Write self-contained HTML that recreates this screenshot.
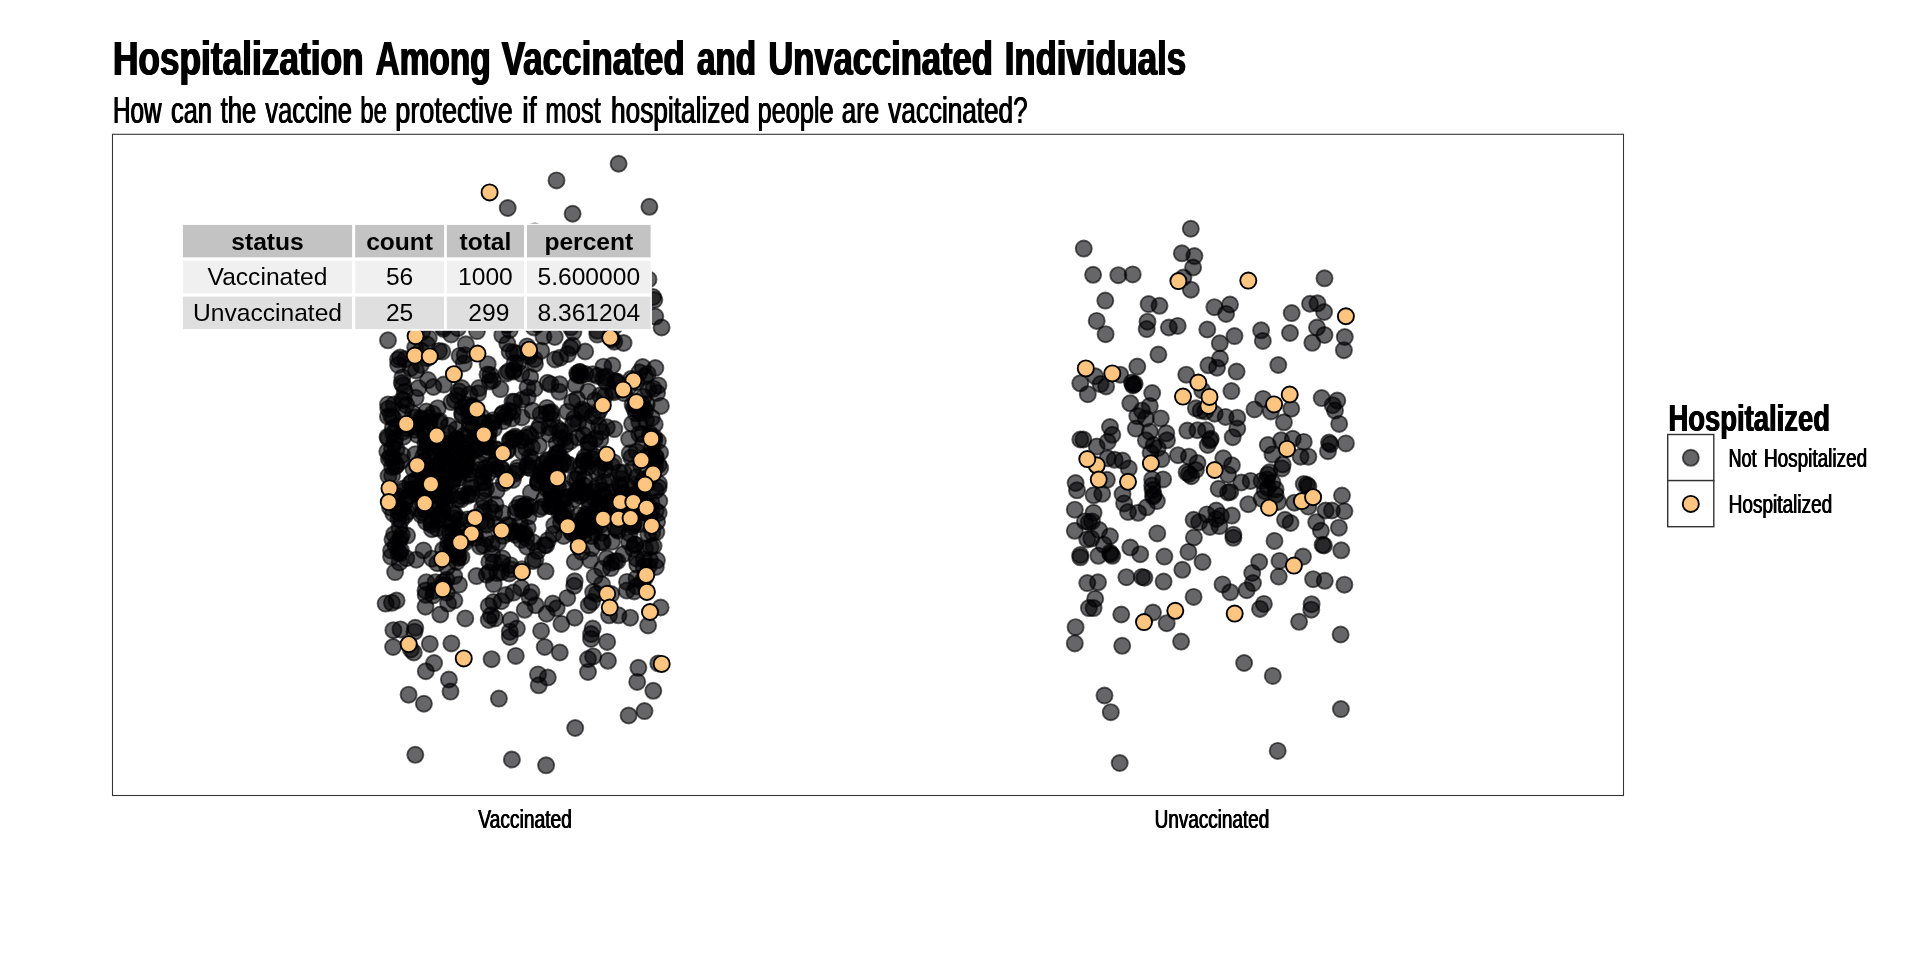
<!DOCTYPE html>
<html><head><meta charset="utf-8"><title>Hospitalization Among Vaccinated and Unvaccinated Individuals</title>
<style>
html,body{margin:0;padding:0;background:#fff;}
body{width:1920px;height:960px;overflow:hidden;font-family:"Liberation Sans",sans-serif;}
svg{display:block;position:absolute;left:0;top:0;}
svg text{font-family:"Liberation Sans",sans-serif;fill:#000;}
.g circle{fill:#000004;fill-opacity:.6;stroke:#000;stroke-opacity:.6;stroke-width:1.88;}
.o circle{fill:#fdc57f;stroke:#000;stroke-width:1.88;}
</style></head><body>
<svg width="1920" height="960" viewBox="0 0 1920 960" style="will-change:transform">
<rect x="0" y="0" width="1920" height="960" fill="#fff"/>

<g font-size="48" font-weight="bold">
<text x="112.24" y="75" textLength="250.64" lengthAdjust="spacingAndGlyphs">Hospitalization</text>
<text x="112.94" y="75" textLength="250.64" lengthAdjust="spacingAndGlyphs">Hospitalization</text>
<text x="113.64" y="75" textLength="250.64" lengthAdjust="spacingAndGlyphs">Hospitalization</text>
<text x="374.88" y="75" textLength="115.08" lengthAdjust="spacingAndGlyphs">Among</text>
<text x="375.58" y="75" textLength="115.08" lengthAdjust="spacingAndGlyphs">Among</text>
<text x="376.28" y="75" textLength="115.08" lengthAdjust="spacingAndGlyphs">Among</text>
<text x="500.99" y="75" textLength="183.12" lengthAdjust="spacingAndGlyphs">Vaccinated</text>
<text x="501.69" y="75" textLength="183.12" lengthAdjust="spacingAndGlyphs">Vaccinated</text>
<text x="502.39" y="75" textLength="183.12" lengthAdjust="spacingAndGlyphs">Vaccinated</text>
<text x="696.30" y="75" textLength="59.02" lengthAdjust="spacingAndGlyphs">and</text>
<text x="697.00" y="75" textLength="59.02" lengthAdjust="spacingAndGlyphs">and</text>
<text x="697.70" y="75" textLength="59.02" lengthAdjust="spacingAndGlyphs">and</text>
<text x="767.69" y="75" textLength="224.39" lengthAdjust="spacingAndGlyphs">Unvaccinated</text>
<text x="768.39" y="75" textLength="224.39" lengthAdjust="spacingAndGlyphs">Unvaccinated</text>
<text x="769.09" y="75" textLength="224.39" lengthAdjust="spacingAndGlyphs">Unvaccinated</text>
<text x="1004.08" y="75" textLength="181.27" lengthAdjust="spacingAndGlyphs">Individuals</text>
<text x="1004.78" y="75" textLength="181.27" lengthAdjust="spacingAndGlyphs">Individuals</text>
<text x="1005.48" y="75" textLength="181.27" lengthAdjust="spacingAndGlyphs">Individuals</text>
</g>
<g font-size="36.3" font-weight="normal">
<text x="112.61" y="122.5" textLength="48.50" lengthAdjust="spacingAndGlyphs">How</text>
<text x="113.06" y="122.5" textLength="48.50" lengthAdjust="spacingAndGlyphs">How</text>
<text x="113.51" y="122.5" textLength="48.50" lengthAdjust="spacingAndGlyphs">How</text>
<text x="170.49" y="122.5" textLength="41.02" lengthAdjust="spacingAndGlyphs">can</text>
<text x="170.94" y="122.5" textLength="41.02" lengthAdjust="spacingAndGlyphs">can</text>
<text x="171.39" y="122.5" textLength="41.02" lengthAdjust="spacingAndGlyphs">can</text>
<text x="220.18" y="122.5" textLength="35.54" lengthAdjust="spacingAndGlyphs">the</text>
<text x="220.63" y="122.5" textLength="35.54" lengthAdjust="spacingAndGlyphs">the</text>
<text x="221.08" y="122.5" textLength="35.54" lengthAdjust="spacingAndGlyphs">the</text>
<text x="264.88" y="122.5" textLength="86.59" lengthAdjust="spacingAndGlyphs">vaccine</text>
<text x="265.33" y="122.5" textLength="86.59" lengthAdjust="spacingAndGlyphs">vaccine</text>
<text x="265.78" y="122.5" textLength="86.59" lengthAdjust="spacingAndGlyphs">vaccine</text>
<text x="359.92" y="122.5" textLength="26.53" lengthAdjust="spacingAndGlyphs">be</text>
<text x="360.37" y="122.5" textLength="26.53" lengthAdjust="spacingAndGlyphs">be</text>
<text x="360.82" y="122.5" textLength="26.53" lengthAdjust="spacingAndGlyphs">be</text>
<text x="394.82" y="122.5" textLength="117.44" lengthAdjust="spacingAndGlyphs">protective</text>
<text x="395.27" y="122.5" textLength="117.44" lengthAdjust="spacingAndGlyphs">protective</text>
<text x="395.72" y="122.5" textLength="117.44" lengthAdjust="spacingAndGlyphs">protective</text>
<text x="521.75" y="122.5" textLength="14.55" lengthAdjust="spacingAndGlyphs">if</text>
<text x="522.20" y="122.5" textLength="14.55" lengthAdjust="spacingAndGlyphs">if</text>
<text x="522.65" y="122.5" textLength="14.55" lengthAdjust="spacingAndGlyphs">if</text>
<text x="544.91" y="122.5" textLength="55.43" lengthAdjust="spacingAndGlyphs">most</text>
<text x="545.36" y="122.5" textLength="55.43" lengthAdjust="spacingAndGlyphs">most</text>
<text x="545.81" y="122.5" textLength="55.43" lengthAdjust="spacingAndGlyphs">most</text>
<text x="610.55" y="122.5" textLength="138.63" lengthAdjust="spacingAndGlyphs">hospitalized</text>
<text x="611.00" y="122.5" textLength="138.63" lengthAdjust="spacingAndGlyphs">hospitalized</text>
<text x="611.45" y="122.5" textLength="138.63" lengthAdjust="spacingAndGlyphs">hospitalized</text>
<text x="757.13" y="122.5" textLength="76.06" lengthAdjust="spacingAndGlyphs">people</text>
<text x="757.58" y="122.5" textLength="76.06" lengthAdjust="spacingAndGlyphs">people</text>
<text x="758.03" y="122.5" textLength="76.06" lengthAdjust="spacingAndGlyphs">people</text>
<text x="841.28" y="122.5" textLength="37.47" lengthAdjust="spacingAndGlyphs">are</text>
<text x="841.73" y="122.5" textLength="37.47" lengthAdjust="spacingAndGlyphs">are</text>
<text x="842.18" y="122.5" textLength="37.47" lengthAdjust="spacingAndGlyphs">are</text>
<text x="887.83" y="122.5" textLength="139.33" lengthAdjust="spacingAndGlyphs">vaccinated?</text>
<text x="888.28" y="122.5" textLength="139.33" lengthAdjust="spacingAndGlyphs">vaccinated?</text>
<text x="888.73" y="122.5" textLength="139.33" lengthAdjust="spacingAndGlyphs">vaccinated?</text>
</g>
<rect x="112.5" y="134.3" width="1511" height="661.2" fill="#fff" stroke="#333" stroke-width="1.07"/>
<g class="g">
<circle cx="565.6" cy="444.5" r="8.05"/>
<circle cx="407.0" cy="512.0" r="8.05"/>
<circle cx="403.1" cy="385.2" r="8.05"/>
<circle cx="526.2" cy="448.2" r="8.05"/>
<circle cx="406.3" cy="558.2" r="8.05"/>
<circle cx="412.1" cy="488.9" r="8.05"/>
<circle cx="421.1" cy="320.4" r="8.05"/>
<circle cx="448.4" cy="542.3" r="8.05"/>
<circle cx="545.3" cy="318.2" r="8.05"/>
<circle cx="495.9" cy="313.5" r="8.05"/>
<circle cx="622.4" cy="493.9" r="8.05"/>
<circle cx="466.6" cy="463.0" r="8.05"/>
<circle cx="471.7" cy="494.2" r="8.05"/>
<circle cx="610.8" cy="501.7" r="8.05"/>
<circle cx="562.3" cy="516.0" r="8.05"/>
<circle cx="489.2" cy="572.3" r="8.05"/>
<circle cx="403.5" cy="436.7" r="8.05"/>
<circle cx="443.6" cy="457.6" r="8.05"/>
<circle cx="473.3" cy="427.6" r="8.05"/>
<circle cx="547.6" cy="382.8" r="8.05"/>
<circle cx="604.9" cy="395.9" r="8.05"/>
<circle cx="578.7" cy="488.5" r="8.05"/>
<circle cx="627.0" cy="581.9" r="8.05"/>
<circle cx="655.8" cy="457.7" r="8.05"/>
<circle cx="428.8" cy="338.1" r="8.05"/>
<circle cx="521.2" cy="539.9" r="8.05"/>
<circle cx="596.7" cy="593.8" r="8.05"/>
<circle cx="544.2" cy="498.9" r="8.05"/>
<circle cx="577.7" cy="521.2" r="8.05"/>
<circle cx="550.1" cy="413.2" r="8.05"/>
<circle cx="617.4" cy="381.8" r="8.05"/>
<circle cx="646.0" cy="420.3" r="8.05"/>
<circle cx="579.4" cy="488.1" r="8.05"/>
<circle cx="612.4" cy="299.8" r="8.05"/>
<circle cx="465.2" cy="245.4" r="8.05"/>
<circle cx="403.4" cy="488.6" r="8.05"/>
<circle cx="597.7" cy="505.2" r="8.05"/>
<circle cx="494.3" cy="512.6" r="8.05"/>
<circle cx="626.0" cy="515.2" r="8.05"/>
<circle cx="537.7" cy="551.0" r="8.05"/>
<circle cx="629.2" cy="513.6" r="8.05"/>
<circle cx="463.5" cy="541.1" r="8.05"/>
<circle cx="501.0" cy="307.6" r="8.05"/>
<circle cx="451.1" cy="495.6" r="8.05"/>
<circle cx="520.1" cy="524.2" r="8.05"/>
<circle cx="388.3" cy="408.8" r="8.05"/>
<circle cx="648.3" cy="389.5" r="8.05"/>
<circle cx="572.5" cy="345.6" r="8.05"/>
<circle cx="402.0" cy="455.1" r="8.05"/>
<circle cx="626.8" cy="590.6" r="8.05"/>
<circle cx="605.8" cy="376.6" r="8.05"/>
<circle cx="415.6" cy="397.7" r="8.05"/>
<circle cx="561.0" cy="522.6" r="8.05"/>
<circle cx="444.4" cy="497.4" r="8.05"/>
<circle cx="431.7" cy="479.5" r="8.05"/>
<circle cx="387.3" cy="451.5" r="8.05"/>
<circle cx="428.6" cy="491.4" r="8.05"/>
<circle cx="394.2" cy="534.2" r="8.05"/>
<circle cx="626.8" cy="516.8" r="8.05"/>
<circle cx="456.3" cy="429.4" r="8.05"/>
<circle cx="482.4" cy="434.2" r="8.05"/>
<circle cx="659.3" cy="501.0" r="8.05"/>
<circle cx="410.7" cy="368.1" r="8.05"/>
<circle cx="415.2" cy="488.5" r="8.05"/>
<circle cx="614.3" cy="429.1" r="8.05"/>
<circle cx="431.4" cy="524.7" r="8.05"/>
<circle cx="427.4" cy="498.3" r="8.05"/>
<circle cx="531.9" cy="447.1" r="8.05"/>
<circle cx="655.3" cy="461.5" r="8.05"/>
<circle cx="458.7" cy="555.8" r="8.05"/>
<circle cx="487.7" cy="364.2" r="8.05"/>
<circle cx="533.1" cy="542.3" r="8.05"/>
<circle cx="657.1" cy="521.8" r="8.05"/>
<circle cx="611.4" cy="562.8" r="8.05"/>
<circle cx="484.6" cy="482.5" r="8.05"/>
<circle cx="395.1" cy="572.1" r="8.05"/>
<circle cx="458.2" cy="537.1" r="8.05"/>
<circle cx="577.0" cy="479.4" r="8.05"/>
<circle cx="643.9" cy="559.3" r="8.05"/>
<circle cx="657.9" cy="441.1" r="8.05"/>
<circle cx="447.6" cy="547.5" r="8.05"/>
<circle cx="449.4" cy="443.6" r="8.05"/>
<circle cx="558.2" cy="486.6" r="8.05"/>
<circle cx="633.9" cy="523.2" r="8.05"/>
<circle cx="566.1" cy="521.1" r="8.05"/>
<circle cx="606.3" cy="382.2" r="8.05"/>
<circle cx="636.5" cy="578.4" r="8.05"/>
<circle cx="601.6" cy="532.7" r="8.05"/>
<circle cx="436.1" cy="467.1" r="8.05"/>
<circle cx="603.4" cy="366.7" r="8.05"/>
<circle cx="653.4" cy="388.7" r="8.05"/>
<circle cx="585.8" cy="293.5" r="8.05"/>
<circle cx="433.8" cy="590.8" r="8.05"/>
<circle cx="635.1" cy="502.2" r="8.05"/>
<circle cx="608.2" cy="503.1" r="8.05"/>
<circle cx="655.8" cy="567.0" r="8.05"/>
<circle cx="567.3" cy="597.9" r="8.05"/>
<circle cx="391.1" cy="556.6" r="8.05"/>
<circle cx="531.5" cy="592.3" r="8.05"/>
<circle cx="643.0" cy="443.8" r="8.05"/>
<circle cx="613.6" cy="303.9" r="8.05"/>
<circle cx="453.1" cy="466.2" r="8.05"/>
<circle cx="547.9" cy="540.3" r="8.05"/>
<circle cx="423.1" cy="461.6" r="8.05"/>
<circle cx="636.5" cy="558.5" r="8.05"/>
<circle cx="547.0" cy="407.9" r="8.05"/>
<circle cx="635.0" cy="544.4" r="8.05"/>
<circle cx="524.7" cy="294.3" r="8.05"/>
<circle cx="532.9" cy="561.1" r="8.05"/>
<circle cx="507.8" cy="450.1" r="8.05"/>
<circle cx="437.4" cy="464.5" r="8.05"/>
<circle cx="516.9" cy="470.9" r="8.05"/>
<circle cx="476.5" cy="449.6" r="8.05"/>
<circle cx="529.2" cy="356.1" r="8.05"/>
<circle cx="416.3" cy="322.1" r="8.05"/>
<circle cx="540.7" cy="414.4" r="8.05"/>
<circle cx="598.8" cy="467.7" r="8.05"/>
<circle cx="526.3" cy="537.9" r="8.05"/>
<circle cx="508.7" cy="410.8" r="8.05"/>
<circle cx="527.5" cy="387.6" r="8.05"/>
<circle cx="577.0" cy="399.2" r="8.05"/>
<circle cx="518.2" cy="363.2" r="8.05"/>
<circle cx="645.2" cy="499.0" r="8.05"/>
<circle cx="645.4" cy="410.5" r="8.05"/>
<circle cx="458.3" cy="296.1" r="8.05"/>
<circle cx="617.4" cy="270.8" r="8.05"/>
<circle cx="407.1" cy="535.6" r="8.05"/>
<circle cx="453.1" cy="532.8" r="8.05"/>
<circle cx="602.0" cy="584.4" r="8.05"/>
<circle cx="633.0" cy="525.1" r="8.05"/>
<circle cx="426.4" cy="582.2" r="8.05"/>
<circle cx="658.4" cy="385.4" r="8.05"/>
<circle cx="615.3" cy="527.7" r="8.05"/>
<circle cx="528.5" cy="516.4" r="8.05"/>
<circle cx="480.1" cy="546.4" r="8.05"/>
<circle cx="585.1" cy="492.8" r="8.05"/>
<circle cx="392.5" cy="539.6" r="8.05"/>
<circle cx="478.0" cy="435.4" r="8.05"/>
<circle cx="404.8" cy="391.9" r="8.05"/>
<circle cx="657.1" cy="392.9" r="8.05"/>
<circle cx="422.7" cy="504.6" r="8.05"/>
<circle cx="611.6" cy="295.9" r="8.05"/>
<circle cx="458.1" cy="557.9" r="8.05"/>
<circle cx="575.8" cy="492.6" r="8.05"/>
<circle cx="503.7" cy="483.1" r="8.05"/>
<circle cx="606.8" cy="558.3" r="8.05"/>
<circle cx="623.6" cy="554.0" r="8.05"/>
<circle cx="641.1" cy="489.9" r="8.05"/>
<circle cx="531.6" cy="461.8" r="8.05"/>
<circle cx="452.5" cy="513.0" r="8.05"/>
<circle cx="401.0" cy="507.4" r="8.05"/>
<circle cx="442.5" cy="500.1" r="8.05"/>
<circle cx="595.3" cy="438.5" r="8.05"/>
<circle cx="466.6" cy="536.4" r="8.05"/>
<circle cx="392.2" cy="467.0" r="8.05"/>
<circle cx="588.1" cy="467.0" r="8.05"/>
<circle cx="538.2" cy="482.5" r="8.05"/>
<circle cx="643.3" cy="504.1" r="8.05"/>
<circle cx="416.3" cy="559.7" r="8.05"/>
<circle cx="522.8" cy="506.3" r="8.05"/>
<circle cx="615.9" cy="382.0" r="8.05"/>
<circle cx="575.6" cy="385.1" r="8.05"/>
<circle cx="656.4" cy="532.1" r="8.05"/>
<circle cx="580.8" cy="375.5" r="8.05"/>
<circle cx="402.1" cy="399.8" r="8.05"/>
<circle cx="422.8" cy="512.8" r="8.05"/>
<circle cx="431.9" cy="529.2" r="8.05"/>
<circle cx="467.5" cy="453.9" r="8.05"/>
<circle cx="513.1" cy="531.2" r="8.05"/>
<circle cx="459.3" cy="519.5" r="8.05"/>
<circle cx="650.7" cy="546.9" r="8.05"/>
<circle cx="454.2" cy="576.1" r="8.05"/>
<circle cx="651.8" cy="448.0" r="8.05"/>
<circle cx="387.5" cy="436.8" r="8.05"/>
<circle cx="491.8" cy="543.9" r="8.05"/>
<circle cx="496.7" cy="469.1" r="8.05"/>
<circle cx="470.6" cy="485.1" r="8.05"/>
<circle cx="451.0" cy="471.9" r="8.05"/>
<circle cx="592.8" cy="374.2" r="8.05"/>
<circle cx="567.4" cy="411.7" r="8.05"/>
<circle cx="493.9" cy="428.6" r="8.05"/>
<circle cx="476.6" cy="290.2" r="8.05"/>
<circle cx="585.6" cy="516.8" r="8.05"/>
<circle cx="563.4" cy="462.2" r="8.05"/>
<circle cx="559.1" cy="512.4" r="8.05"/>
<circle cx="425.4" cy="450.7" r="8.05"/>
<circle cx="530.7" cy="306.9" r="8.05"/>
<circle cx="607.7" cy="300.0" r="8.05"/>
<circle cx="613.6" cy="462.4" r="8.05"/>
<circle cx="574.3" cy="306.4" r="8.05"/>
<circle cx="577.2" cy="373.3" r="8.05"/>
<circle cx="423.7" cy="469.8" r="8.05"/>
<circle cx="486.0" cy="489.0" r="8.05"/>
<circle cx="521.3" cy="373.7" r="8.05"/>
<circle cx="525.0" cy="510.2" r="8.05"/>
<circle cx="533.8" cy="327.4" r="8.05"/>
<circle cx="589.1" cy="449.4" r="8.05"/>
<circle cx="456.3" cy="439.6" r="8.05"/>
<circle cx="587.0" cy="528.7" r="8.05"/>
<circle cx="443.4" cy="498.2" r="8.05"/>
<circle cx="522.5" cy="451.7" r="8.05"/>
<circle cx="597.3" cy="334.6" r="8.05"/>
<circle cx="556.3" cy="484.6" r="8.05"/>
<circle cx="427.6" cy="444.9" r="8.05"/>
<circle cx="456.8" cy="439.4" r="8.05"/>
<circle cx="542.8" cy="463.8" r="8.05"/>
<circle cx="571.3" cy="531.6" r="8.05"/>
<circle cx="576.9" cy="492.9" r="8.05"/>
<circle cx="528.7" cy="434.2" r="8.05"/>
<circle cx="514.5" cy="401.8" r="8.05"/>
<circle cx="632.1" cy="423.8" r="8.05"/>
<circle cx="441.8" cy="476.3" r="8.05"/>
<circle cx="513.0" cy="438.7" r="8.05"/>
<circle cx="510.3" cy="565.2" r="8.05"/>
<circle cx="460.8" cy="257.9" r="8.05"/>
<circle cx="444.9" cy="520.0" r="8.05"/>
<circle cx="648.3" cy="534.4" r="8.05"/>
<circle cx="423.5" cy="550.4" r="8.05"/>
<circle cx="630.2" cy="511.8" r="8.05"/>
<circle cx="579.9" cy="372.1" r="8.05"/>
<circle cx="510.7" cy="569.3" r="8.05"/>
<circle cx="469.9" cy="469.3" r="8.05"/>
<circle cx="473.8" cy="518.2" r="8.05"/>
<circle cx="617.4" cy="529.5" r="8.05"/>
<circle cx="420.1" cy="468.6" r="8.05"/>
<circle cx="634.2" cy="591.4" r="8.05"/>
<circle cx="466.6" cy="405.0" r="8.05"/>
<circle cx="660.9" cy="405.9" r="8.05"/>
<circle cx="462.6" cy="407.4" r="8.05"/>
<circle cx="400.4" cy="538.4" r="8.05"/>
<circle cx="643.6" cy="566.6" r="8.05"/>
<circle cx="527.2" cy="467.3" r="8.05"/>
<circle cx="629.5" cy="313.0" r="8.05"/>
<circle cx="537.7" cy="324.3" r="8.05"/>
<circle cx="587.9" cy="461.7" r="8.05"/>
<circle cx="510.7" cy="439.5" r="8.05"/>
<circle cx="465.6" cy="469.1" r="8.05"/>
<circle cx="516.6" cy="508.1" r="8.05"/>
<circle cx="481.4" cy="446.6" r="8.05"/>
<circle cx="654.7" cy="424.4" r="8.05"/>
<circle cx="539.9" cy="425.5" r="8.05"/>
<circle cx="444.2" cy="492.9" r="8.05"/>
<circle cx="635.4" cy="512.4" r="8.05"/>
<circle cx="635.5" cy="405.0" r="8.05"/>
<circle cx="660.2" cy="468.1" r="8.05"/>
<circle cx="439.9" cy="421.1" r="8.05"/>
<circle cx="412.1" cy="481.9" r="8.05"/>
<circle cx="452.7" cy="446.0" r="8.05"/>
<circle cx="458.0" cy="499.2" r="8.05"/>
<circle cx="592.6" cy="300.5" r="8.05"/>
<circle cx="500.3" cy="389.1" r="8.05"/>
<circle cx="490.5" cy="375.1" r="8.05"/>
<circle cx="479.9" cy="522.2" r="8.05"/>
<circle cx="652.3" cy="532.6" r="8.05"/>
<circle cx="421.7" cy="494.0" r="8.05"/>
<circle cx="623.6" cy="343.0" r="8.05"/>
<circle cx="446.4" cy="464.4" r="8.05"/>
<circle cx="496.7" cy="458.2" r="8.05"/>
<circle cx="509.4" cy="532.9" r="8.05"/>
<circle cx="393.2" cy="418.2" r="8.05"/>
<circle cx="494.5" cy="465.6" r="8.05"/>
<circle cx="641.2" cy="466.1" r="8.05"/>
<circle cx="653.6" cy="546.1" r="8.05"/>
<circle cx="455.3" cy="313.1" r="8.05"/>
<circle cx="530.3" cy="506.5" r="8.05"/>
<circle cx="574.1" cy="499.2" r="8.05"/>
<circle cx="596.8" cy="416.4" r="8.05"/>
<circle cx="398.0" cy="359.5" r="8.05"/>
<circle cx="601.5" cy="496.5" r="8.05"/>
<circle cx="564.1" cy="488.6" r="8.05"/>
<circle cx="561.5" cy="513.5" r="8.05"/>
<circle cx="578.6" cy="515.3" r="8.05"/>
<circle cx="530.9" cy="492.6" r="8.05"/>
<circle cx="546.9" cy="488.8" r="8.05"/>
<circle cx="551.9" cy="419.2" r="8.05"/>
<circle cx="390.1" cy="507.5" r="8.05"/>
<circle cx="649.9" cy="435.9" r="8.05"/>
<circle cx="451.5" cy="541.5" r="8.05"/>
<circle cx="454.9" cy="400.3" r="8.05"/>
<circle cx="393.2" cy="433.3" r="8.05"/>
<circle cx="502.3" cy="335.2" r="8.05"/>
<circle cx="457.7" cy="468.4" r="8.05"/>
<circle cx="396.5" cy="293.0" r="8.05"/>
<circle cx="574.2" cy="418.7" r="8.05"/>
<circle cx="525.5" cy="509.0" r="8.05"/>
<circle cx="443.4" cy="329.0" r="8.05"/>
<circle cx="611.9" cy="541.7" r="8.05"/>
<circle cx="450.4" cy="452.7" r="8.05"/>
<circle cx="468.0" cy="493.6" r="8.05"/>
<circle cx="501.5" cy="468.5" r="8.05"/>
<circle cx="427.3" cy="358.1" r="8.05"/>
<circle cx="495.0" cy="282.2" r="8.05"/>
<circle cx="426.1" cy="521.9" r="8.05"/>
<circle cx="633.3" cy="548.8" r="8.05"/>
<circle cx="629.3" cy="499.5" r="8.05"/>
<circle cx="642.5" cy="434.0" r="8.05"/>
<circle cx="591.7" cy="548.3" r="8.05"/>
<circle cx="489.6" cy="423.0" r="8.05"/>
<circle cx="478.1" cy="393.3" r="8.05"/>
<circle cx="463.9" cy="470.2" r="8.05"/>
<circle cx="483.5" cy="472.8" r="8.05"/>
<circle cx="651.4" cy="510.5" r="8.05"/>
<circle cx="444.0" cy="454.5" r="8.05"/>
<circle cx="612.4" cy="365.5" r="8.05"/>
<circle cx="505.7" cy="595.1" r="8.05"/>
<circle cx="489.3" cy="561.9" r="8.05"/>
<circle cx="639.1" cy="497.4" r="8.05"/>
<circle cx="633.0" cy="496.3" r="8.05"/>
<circle cx="395.5" cy="545.4" r="8.05"/>
<circle cx="597.3" cy="330.8" r="8.05"/>
<circle cx="398.3" cy="552.5" r="8.05"/>
<circle cx="639.3" cy="497.9" r="8.05"/>
<circle cx="457.6" cy="473.9" r="8.05"/>
<circle cx="480.1" cy="463.8" r="8.05"/>
<circle cx="461.8" cy="278.8" r="8.05"/>
<circle cx="459.0" cy="584.6" r="8.05"/>
<circle cx="583.6" cy="435.0" r="8.05"/>
<circle cx="388.2" cy="438.3" r="8.05"/>
<circle cx="594.2" cy="531.6" r="8.05"/>
<circle cx="645.7" cy="575.0" r="8.05"/>
<circle cx="393.8" cy="404.5" r="8.05"/>
<circle cx="649.4" cy="477.1" r="8.05"/>
<circle cx="648.6" cy="566.4" r="8.05"/>
<circle cx="505.0" cy="416.4" r="8.05"/>
<circle cx="522.4" cy="510.8" r="8.05"/>
<circle cx="607.1" cy="517.3" r="8.05"/>
<circle cx="589.5" cy="442.6" r="8.05"/>
<circle cx="553.6" cy="533.9" r="8.05"/>
<circle cx="477.0" cy="331.1" r="8.05"/>
<circle cx="601.5" cy="431.7" r="8.05"/>
<circle cx="455.0" cy="514.8" r="8.05"/>
<circle cx="476.5" cy="576.1" r="8.05"/>
<circle cx="655.8" cy="490.6" r="8.05"/>
<circle cx="410.2" cy="292.3" r="8.05"/>
<circle cx="581.7" cy="552.0" r="8.05"/>
<circle cx="509.7" cy="525.9" r="8.05"/>
<circle cx="557.2" cy="476.1" r="8.05"/>
<circle cx="569.3" cy="464.8" r="8.05"/>
<circle cx="420.4" cy="296.5" r="8.05"/>
<circle cx="542.5" cy="506.7" r="8.05"/>
<circle cx="455.0" cy="462.6" r="8.05"/>
<circle cx="545.6" cy="571.3" r="8.05"/>
<circle cx="526.2" cy="248.5" r="8.05"/>
<circle cx="658.7" cy="513.0" r="8.05"/>
<circle cx="415.2" cy="347.4" r="8.05"/>
<circle cx="617.5" cy="306.3" r="8.05"/>
<circle cx="637.7" cy="492.7" r="8.05"/>
<circle cx="439.1" cy="485.4" r="8.05"/>
<circle cx="642.1" cy="581.7" r="8.05"/>
<circle cx="489.2" cy="447.3" r="8.05"/>
<circle cx="458.4" cy="531.1" r="8.05"/>
<circle cx="600.3" cy="395.4" r="8.05"/>
<circle cx="550.5" cy="506.2" r="8.05"/>
<circle cx="557.1" cy="453.1" r="8.05"/>
<circle cx="425.9" cy="484.0" r="8.05"/>
<circle cx="443.1" cy="549.7" r="8.05"/>
<circle cx="565.8" cy="463.3" r="8.05"/>
<circle cx="442.9" cy="586.0" r="8.05"/>
<circle cx="437.9" cy="472.6" r="8.05"/>
<circle cx="495.5" cy="504.5" r="8.05"/>
<circle cx="537.9" cy="482.8" r="8.05"/>
<circle cx="432.1" cy="442.3" r="8.05"/>
<circle cx="577.7" cy="437.5" r="8.05"/>
<circle cx="471.5" cy="406.4" r="8.05"/>
<circle cx="648.4" cy="505.6" r="8.05"/>
<circle cx="485.1" cy="423.5" r="8.05"/>
<circle cx="501.3" cy="572.2" r="8.05"/>
<circle cx="441.2" cy="243.4" r="8.05"/>
<circle cx="388.8" cy="458.8" r="8.05"/>
<circle cx="634.2" cy="408.2" r="8.05"/>
<circle cx="498.5" cy="322.3" r="8.05"/>
<circle cx="629.1" cy="542.2" r="8.05"/>
<circle cx="391.3" cy="416.2" r="8.05"/>
<circle cx="538.3" cy="479.7" r="8.05"/>
<circle cx="557.7" cy="317.8" r="8.05"/>
<circle cx="464.8" cy="542.6" r="8.05"/>
<circle cx="417.0" cy="268.2" r="8.05"/>
<circle cx="521.6" cy="440.4" r="8.05"/>
<circle cx="421.9" cy="250.8" r="8.05"/>
<circle cx="401.8" cy="383.1" r="8.05"/>
<circle cx="635.0" cy="545.0" r="8.05"/>
<circle cx="557.2" cy="428.0" r="8.05"/>
<circle cx="602.5" cy="490.5" r="8.05"/>
<circle cx="614.4" cy="326.4" r="8.05"/>
<circle cx="437.3" cy="563.2" r="8.05"/>
<circle cx="492.3" cy="554.1" r="8.05"/>
<circle cx="585.8" cy="514.4" r="8.05"/>
<circle cx="633.1" cy="513.3" r="8.05"/>
<circle cx="594.7" cy="576.4" r="8.05"/>
<circle cx="397.6" cy="495.9" r="8.05"/>
<circle cx="551.5" cy="490.2" r="8.05"/>
<circle cx="537.9" cy="429.5" r="8.05"/>
<circle cx="502.3" cy="414.5" r="8.05"/>
<circle cx="546.8" cy="413.1" r="8.05"/>
<circle cx="509.6" cy="351.7" r="8.05"/>
<circle cx="507.3" cy="525.1" r="8.05"/>
<circle cx="521.3" cy="587.9" r="8.05"/>
<circle cx="451.7" cy="484.9" r="8.05"/>
<circle cx="512.8" cy="480.0" r="8.05"/>
<circle cx="436.4" cy="314.4" r="8.05"/>
<circle cx="422.4" cy="425.7" r="8.05"/>
<circle cx="505.2" cy="474.0" r="8.05"/>
<circle cx="527.0" cy="546.7" r="8.05"/>
<circle cx="398.4" cy="518.8" r="8.05"/>
<circle cx="588.2" cy="443.1" r="8.05"/>
<circle cx="600.3" cy="439.4" r="8.05"/>
<circle cx="525.3" cy="437.7" r="8.05"/>
<circle cx="490.7" cy="464.9" r="8.05"/>
<circle cx="622.0" cy="512.4" r="8.05"/>
<circle cx="660.1" cy="452.5" r="8.05"/>
<circle cx="440.3" cy="448.8" r="8.05"/>
<circle cx="432.4" cy="478.3" r="8.05"/>
<circle cx="405.2" cy="515.5" r="8.05"/>
<circle cx="483.3" cy="269.6" r="8.05"/>
<circle cx="632.9" cy="469.0" r="8.05"/>
<circle cx="462.5" cy="415.3" r="8.05"/>
<circle cx="639.3" cy="422.1" r="8.05"/>
<circle cx="474.6" cy="533.4" r="8.05"/>
<circle cx="431.4" cy="521.3" r="8.05"/>
<circle cx="643.8" cy="479.8" r="8.05"/>
<circle cx="433.4" cy="387.0" r="8.05"/>
<circle cx="602.3" cy="298.0" r="8.05"/>
<circle cx="485.8" cy="538.6" r="8.05"/>
<circle cx="546.1" cy="545.2" r="8.05"/>
<circle cx="629.0" cy="386.8" r="8.05"/>
<circle cx="658.6" cy="487.4" r="8.05"/>
<circle cx="508.4" cy="371.4" r="8.05"/>
<circle cx="435.6" cy="582.2" r="8.05"/>
<circle cx="611.8" cy="465.9" r="8.05"/>
<circle cx="456.7" cy="439.3" r="8.05"/>
<circle cx="547.7" cy="304.7" r="8.05"/>
<circle cx="569.1" cy="272.7" r="8.05"/>
<circle cx="396.5" cy="465.0" r="8.05"/>
<circle cx="428.1" cy="471.9" r="8.05"/>
<circle cx="527.7" cy="397.2" r="8.05"/>
<circle cx="632.6" cy="404.6" r="8.05"/>
<circle cx="566.2" cy="509.7" r="8.05"/>
<circle cx="393.3" cy="513.6" r="8.05"/>
<circle cx="485.1" cy="468.4" r="8.05"/>
<circle cx="548.6" cy="485.8" r="8.05"/>
<circle cx="443.1" cy="582.0" r="8.05"/>
<circle cx="643.8" cy="396.8" r="8.05"/>
<circle cx="413.5" cy="469.0" r="8.05"/>
<circle cx="562.1" cy="517.0" r="8.05"/>
<circle cx="497.3" cy="573.1" r="8.05"/>
<circle cx="459.6" cy="355.9" r="8.05"/>
<circle cx="483.2" cy="476.1" r="8.05"/>
<circle cx="644.0" cy="408.9" r="8.05"/>
<circle cx="588.2" cy="391.5" r="8.05"/>
<circle cx="403.2" cy="413.2" r="8.05"/>
<circle cx="600.6" cy="503.1" r="8.05"/>
<circle cx="645.0" cy="578.0" r="8.05"/>
<circle cx="426.2" cy="475.6" r="8.05"/>
<circle cx="526.1" cy="504.6" r="8.05"/>
<circle cx="472.0" cy="488.1" r="8.05"/>
<circle cx="469.5" cy="416.7" r="8.05"/>
<circle cx="583.2" cy="522.4" r="8.05"/>
<circle cx="514.7" cy="473.8" r="8.05"/>
<circle cx="449.1" cy="462.0" r="8.05"/>
<circle cx="416.0" cy="370.5" r="8.05"/>
<circle cx="479.1" cy="469.7" r="8.05"/>
<circle cx="592.6" cy="491.6" r="8.05"/>
<circle cx="582.2" cy="409.5" r="8.05"/>
<circle cx="460.1" cy="307.0" r="8.05"/>
<circle cx="603.2" cy="378.1" r="8.05"/>
<circle cx="530.6" cy="435.8" r="8.05"/>
<circle cx="651.6" cy="454.9" r="8.05"/>
<circle cx="446.7" cy="592.6" r="8.05"/>
<circle cx="458.5" cy="478.2" r="8.05"/>
<circle cx="451.9" cy="456.5" r="8.05"/>
<circle cx="591.6" cy="458.9" r="8.05"/>
<circle cx="476.8" cy="255.4" r="8.05"/>
<circle cx="452.7" cy="524.3" r="8.05"/>
<circle cx="635.9" cy="413.3" r="8.05"/>
<circle cx="655.4" cy="368.0" r="8.05"/>
<circle cx="578.3" cy="301.7" r="8.05"/>
<circle cx="622.2" cy="499.1" r="8.05"/>
<circle cx="543.5" cy="336.5" r="8.05"/>
<circle cx="471.5" cy="521.3" r="8.05"/>
<circle cx="408.5" cy="496.1" r="8.05"/>
<circle cx="636.8" cy="586.4" r="8.05"/>
<circle cx="416.4" cy="479.6" r="8.05"/>
<circle cx="641.7" cy="483.2" r="8.05"/>
<circle cx="395.1" cy="439.7" r="8.05"/>
<circle cx="398.6" cy="507.3" r="8.05"/>
<circle cx="578.2" cy="423.0" r="8.05"/>
<circle cx="486.8" cy="574.7" r="8.05"/>
<circle cx="611.2" cy="514.2" r="8.05"/>
<circle cx="625.0" cy="299.0" r="8.05"/>
<circle cx="619.5" cy="484.8" r="8.05"/>
<circle cx="609.7" cy="482.1" r="8.05"/>
<circle cx="560.2" cy="357.7" r="8.05"/>
<circle cx="465.9" cy="344.3" r="8.05"/>
<circle cx="594.7" cy="499.3" r="8.05"/>
<circle cx="443.4" cy="490.5" r="8.05"/>
<circle cx="392.9" cy="428.1" r="8.05"/>
<circle cx="457.5" cy="550.8" r="8.05"/>
<circle cx="488.0" cy="438.6" r="8.05"/>
<circle cx="556.6" cy="443.6" r="8.05"/>
<circle cx="599.0" cy="484.6" r="8.05"/>
<circle cx="534.6" cy="388.5" r="8.05"/>
<circle cx="446.5" cy="579.8" r="8.05"/>
<circle cx="611.8" cy="491.9" r="8.05"/>
<circle cx="433.9" cy="437.7" r="8.05"/>
<circle cx="596.0" cy="526.1" r="8.05"/>
<circle cx="655.1" cy="467.5" r="8.05"/>
<circle cx="521.9" cy="569.2" r="8.05"/>
<circle cx="605.5" cy="469.8" r="8.05"/>
<circle cx="482.3" cy="508.1" r="8.05"/>
<circle cx="615.1" cy="561.2" r="8.05"/>
<circle cx="464.9" cy="453.0" r="8.05"/>
<circle cx="417.3" cy="434.7" r="8.05"/>
<circle cx="602.8" cy="542.4" r="8.05"/>
<circle cx="630.6" cy="495.8" r="8.05"/>
<circle cx="394.1" cy="443.3" r="8.05"/>
<circle cx="634.1" cy="485.7" r="8.05"/>
<circle cx="524.5" cy="533.2" r="8.05"/>
<circle cx="451.2" cy="334.4" r="8.05"/>
<circle cx="513.5" cy="592.6" r="8.05"/>
<circle cx="593.5" cy="322.4" r="8.05"/>
<circle cx="564.3" cy="438.0" r="8.05"/>
<circle cx="429.8" cy="421.6" r="8.05"/>
<circle cx="618.2" cy="530.8" r="8.05"/>
<circle cx="507.4" cy="343.7" r="8.05"/>
<circle cx="421.7" cy="484.0" r="8.05"/>
<circle cx="513.8" cy="352.5" r="8.05"/>
<circle cx="439.7" cy="515.7" r="8.05"/>
<circle cx="469.8" cy="424.1" r="8.05"/>
<circle cx="429.6" cy="417.8" r="8.05"/>
<circle cx="429.9" cy="304.8" r="8.05"/>
<circle cx="530.3" cy="468.2" r="8.05"/>
<circle cx="654.4" cy="440.1" r="8.05"/>
<circle cx="586.9" cy="517.3" r="8.05"/>
<circle cx="506.4" cy="451.1" r="8.05"/>
<circle cx="416.5" cy="508.6" r="8.05"/>
<circle cx="443.8" cy="585.3" r="8.05"/>
<circle cx="496.5" cy="449.3" r="8.05"/>
<circle cx="603.9" cy="481.9" r="8.05"/>
<circle cx="560.5" cy="430.9" r="8.05"/>
<circle cx="514.1" cy="369.8" r="8.05"/>
<circle cx="498.1" cy="542.3" r="8.05"/>
<circle cx="590.2" cy="560.1" r="8.05"/>
<circle cx="544.5" cy="545.2" r="8.05"/>
<circle cx="592.5" cy="416.0" r="8.05"/>
<circle cx="585.1" cy="411.2" r="8.05"/>
<circle cx="628.3" cy="497.1" r="8.05"/>
<circle cx="620.8" cy="487.6" r="8.05"/>
<circle cx="573.4" cy="332.0" r="8.05"/>
<circle cx="473.0" cy="406.0" r="8.05"/>
<circle cx="559.3" cy="391.8" r="8.05"/>
<circle cx="601.6" cy="542.0" r="8.05"/>
<circle cx="582.6" cy="520.0" r="8.05"/>
<circle cx="503.3" cy="421.2" r="8.05"/>
<circle cx="511.9" cy="418.4" r="8.05"/>
<circle cx="572.2" cy="401.8" r="8.05"/>
<circle cx="642.1" cy="404.5" r="8.05"/>
<circle cx="600.4" cy="519.4" r="8.05"/>
<circle cx="493.7" cy="584.1" r="8.05"/>
<circle cx="644.9" cy="548.6" r="8.05"/>
<circle cx="529.5" cy="597.1" r="8.05"/>
<circle cx="535.4" cy="559.6" r="8.05"/>
<circle cx="583.7" cy="535.3" r="8.05"/>
<circle cx="614.3" cy="341.7" r="8.05"/>
<circle cx="530.1" cy="457.4" r="8.05"/>
<circle cx="444.8" cy="286.1" r="8.05"/>
<circle cx="574.7" cy="581.3" r="8.05"/>
<circle cx="420.7" cy="350.5" r="8.05"/>
<circle cx="656.9" cy="560.3" r="8.05"/>
<circle cx="462.4" cy="448.5" r="8.05"/>
<circle cx="496.7" cy="490.7" r="8.05"/>
<circle cx="502.4" cy="558.3" r="8.05"/>
<circle cx="578.5" cy="474.7" r="8.05"/>
<circle cx="448.7" cy="425.7" r="8.05"/>
<circle cx="590.4" cy="522.3" r="8.05"/>
<circle cx="447.2" cy="567.1" r="8.05"/>
<circle cx="606.8" cy="427.3" r="8.05"/>
<circle cx="422.6" cy="419.7" r="8.05"/>
<circle cx="600.0" cy="505.1" r="8.05"/>
<circle cx="515.7" cy="512.6" r="8.05"/>
<circle cx="541.2" cy="350.8" r="8.05"/>
<circle cx="484.0" cy="501.1" r="8.05"/>
<circle cx="515.5" cy="534.8" r="8.05"/>
<circle cx="467.8" cy="319.9" r="8.05"/>
<circle cx="484.4" cy="453.4" r="8.05"/>
<circle cx="490.3" cy="508.0" r="8.05"/>
<circle cx="387.9" cy="416.5" r="8.05"/>
<circle cx="585.0" cy="492.3" r="8.05"/>
<circle cx="469.9" cy="454.1" r="8.05"/>
<circle cx="518.6" cy="531.7" r="8.05"/>
<circle cx="567.8" cy="354.1" r="8.05"/>
<circle cx="486.5" cy="521.4" r="8.05"/>
<circle cx="614.0" cy="392.2" r="8.05"/>
<circle cx="425.7" cy="594.9" r="8.05"/>
<circle cx="615.0" cy="381.0" r="8.05"/>
<circle cx="390.3" cy="456.8" r="8.05"/>
<circle cx="648.0" cy="455.6" r="8.05"/>
<circle cx="415.0" cy="429.8" r="8.05"/>
<circle cx="426.3" cy="411.6" r="8.05"/>
<circle cx="482.1" cy="482.6" r="8.05"/>
<circle cx="433.2" cy="595.4" r="8.05"/>
<circle cx="631.4" cy="378.7" r="8.05"/>
<circle cx="570.4" cy="347.8" r="8.05"/>
<circle cx="441.3" cy="506.8" r="8.05"/>
<circle cx="577.0" cy="303.7" r="8.05"/>
<circle cx="507.4" cy="324.9" r="8.05"/>
<circle cx="629.1" cy="439.1" r="8.05"/>
<circle cx="451.4" cy="402.1" r="8.05"/>
<circle cx="425.4" cy="443.6" r="8.05"/>
<circle cx="515.2" cy="436.5" r="8.05"/>
<circle cx="426.8" cy="468.3" r="8.05"/>
<circle cx="535.0" cy="363.8" r="8.05"/>
<circle cx="623.6" cy="472.6" r="8.05"/>
<circle cx="541.3" cy="474.0" r="8.05"/>
<circle cx="489.9" cy="381.4" r="8.05"/>
<circle cx="502.0" cy="321.7" r="8.05"/>
<circle cx="561.7" cy="500.8" r="8.05"/>
<circle cx="561.5" cy="458.5" r="8.05"/>
<circle cx="574.2" cy="585.8" r="8.05"/>
<circle cx="642.4" cy="488.5" r="8.05"/>
<circle cx="527.1" cy="346.4" r="8.05"/>
<circle cx="584.0" cy="485.5" r="8.05"/>
<circle cx="558.5" cy="453.1" r="8.05"/>
<circle cx="487.5" cy="374.5" r="8.05"/>
<circle cx="444.9" cy="317.9" r="8.05"/>
<circle cx="467.4" cy="519.4" r="8.05"/>
<circle cx="525.2" cy="509.0" r="8.05"/>
<circle cx="461.6" cy="388.0" r="8.05"/>
<circle cx="604.2" cy="457.4" r="8.05"/>
<circle cx="469.2" cy="429.6" r="8.05"/>
<circle cx="398.2" cy="365.0" r="8.05"/>
<circle cx="585.2" cy="351.5" r="8.05"/>
<circle cx="400.8" cy="550.2" r="8.05"/>
<circle cx="469.5" cy="394.2" r="8.05"/>
<circle cx="639.7" cy="524.1" r="8.05"/>
<circle cx="554.0" cy="469.2" r="8.05"/>
<circle cx="636.5" cy="382.2" r="8.05"/>
<circle cx="554.8" cy="337.0" r="8.05"/>
<circle cx="578.0" cy="375.2" r="8.05"/>
<circle cx="550.6" cy="384.3" r="8.05"/>
<circle cx="570.0" cy="441.4" r="8.05"/>
<circle cx="512.7" cy="411.8" r="8.05"/>
<circle cx="436.9" cy="470.2" r="8.05"/>
<circle cx="397.3" cy="426.4" r="8.05"/>
<circle cx="566.9" cy="496.9" r="8.05"/>
<circle cx="488.3" cy="274.3" r="8.05"/>
<circle cx="457.9" cy="328.2" r="8.05"/>
<circle cx="474.5" cy="437.4" r="8.05"/>
<circle cx="542.7" cy="307.5" r="8.05"/>
<circle cx="609.2" cy="509.9" r="8.05"/>
<circle cx="544.8" cy="477.8" r="8.05"/>
<circle cx="391.1" cy="550.5" r="8.05"/>
<circle cx="493.3" cy="420.2" r="8.05"/>
<circle cx="517.5" cy="353.7" r="8.05"/>
<circle cx="563.8" cy="432.2" r="8.05"/>
<circle cx="445.4" cy="488.4" r="8.05"/>
<circle cx="388.5" cy="476.0" r="8.05"/>
<circle cx="574.6" cy="479.7" r="8.05"/>
<circle cx="584.3" cy="478.5" r="8.05"/>
<circle cx="453.6" cy="479.1" r="8.05"/>
<circle cx="400.9" cy="461.2" r="8.05"/>
<circle cx="599.3" cy="410.6" r="8.05"/>
<circle cx="587.1" cy="427.7" r="8.05"/>
<circle cx="410.3" cy="298.4" r="8.05"/>
<circle cx="513.4" cy="371.4" r="8.05"/>
<circle cx="642.7" cy="367.0" r="8.05"/>
<circle cx="583.7" cy="461.2" r="8.05"/>
<circle cx="611.2" cy="594.1" r="8.05"/>
<circle cx="432.7" cy="413.7" r="8.05"/>
<circle cx="487.9" cy="436.2" r="8.05"/>
<circle cx="544.7" cy="469.7" r="8.05"/>
<circle cx="426.9" cy="344.4" r="8.05"/>
<circle cx="605.7" cy="516.7" r="8.05"/>
<circle cx="559.7" cy="384.3" r="8.05"/>
<circle cx="501.7" cy="562.9" r="8.05"/>
<circle cx="602.2" cy="568.7" r="8.05"/>
<circle cx="403.8" cy="400.2" r="8.05"/>
<circle cx="654.1" cy="437.2" r="8.05"/>
<circle cx="478.2" cy="419.3" r="8.05"/>
<circle cx="553.2" cy="309.1" r="8.05"/>
<circle cx="471.8" cy="443.6" r="8.05"/>
<circle cx="490.4" cy="301.1" r="8.05"/>
<circle cx="608.4" cy="316.7" r="8.05"/>
<circle cx="464.8" cy="355.2" r="8.05"/>
<circle cx="503.0" cy="535.8" r="8.05"/>
<circle cx="547.9" cy="467.7" r="8.05"/>
<circle cx="398.8" cy="541.1" r="8.05"/>
<circle cx="615.5" cy="298.7" r="8.05"/>
<circle cx="462.2" cy="303.3" r="8.05"/>
<circle cx="574.8" cy="561.8" r="8.05"/>
<circle cx="538.9" cy="445.8" r="8.05"/>
<circle cx="605.7" cy="497.4" r="8.05"/>
<circle cx="642.5" cy="511.9" r="8.05"/>
<circle cx="514.7" cy="363.3" r="8.05"/>
<circle cx="443.8" cy="384.6" r="8.05"/>
<circle cx="604.1" cy="462.6" r="8.05"/>
<circle cx="451.0" cy="550.5" r="8.05"/>
<circle cx="629.7" cy="302.4" r="8.05"/>
<circle cx="530.2" cy="377.0" r="8.05"/>
<circle cx="439.0" cy="350.9" r="8.05"/>
<circle cx="439.9" cy="484.2" r="8.05"/>
<circle cx="486.6" cy="524.7" r="8.05"/>
<circle cx="428.0" cy="380.1" r="8.05"/>
<circle cx="399.4" cy="528.1" r="8.05"/>
<circle cx="560.6" cy="465.5" r="8.05"/>
<circle cx="550.8" cy="478.9" r="8.05"/>
<circle cx="481.7" cy="417.1" r="8.05"/>
<circle cx="396.4" cy="449.2" r="8.05"/>
<circle cx="658.6" cy="464.8" r="8.05"/>
<circle cx="458.9" cy="391.3" r="8.05"/>
<circle cx="646.5" cy="483.9" r="8.05"/>
<circle cx="597.4" cy="375.8" r="8.05"/>
<circle cx="456.8" cy="561.9" r="8.05"/>
<circle cx="397.6" cy="261.4" r="8.05"/>
<circle cx="410.1" cy="483.8" r="8.05"/>
<circle cx="401.2" cy="520.0" r="8.05"/>
<circle cx="512.8" cy="300.5" r="8.05"/>
<circle cx="646.7" cy="404.2" r="8.05"/>
<circle cx="551.1" cy="494.1" r="8.05"/>
<circle cx="496.1" cy="449.8" r="8.05"/>
<circle cx="570.7" cy="327.3" r="8.05"/>
<circle cx="494.9" cy="296.7" r="8.05"/>
<circle cx="651.8" cy="417.8" r="8.05"/>
<circle cx="658.9" cy="483.6" r="8.05"/>
<circle cx="457.3" cy="471.4" r="8.05"/>
<circle cx="483.7" cy="491.3" r="8.05"/>
<circle cx="400.1" cy="357.6" r="8.05"/>
<circle cx="564.4" cy="498.4" r="8.05"/>
<circle cx="594.1" cy="513.2" r="8.05"/>
<circle cx="644.6" cy="483.9" r="8.05"/>
<circle cx="549.3" cy="434.1" r="8.05"/>
<circle cx="594.9" cy="400.5" r="8.05"/>
<circle cx="457.6" cy="528.4" r="8.05"/>
<circle cx="421.2" cy="514.9" r="8.05"/>
<circle cx="426.4" cy="473.3" r="8.05"/>
<circle cx="583.7" cy="460.8" r="8.05"/>
<circle cx="440.7" cy="454.4" r="8.05"/>
<circle cx="643.1" cy="512.3" r="8.05"/>
<circle cx="425.5" cy="590.5" r="8.05"/>
<circle cx="509.7" cy="330.0" r="8.05"/>
<circle cx="612.7" cy="390.4" r="8.05"/>
<circle cx="447.9" cy="433.2" r="8.05"/>
<circle cx="402.7" cy="431.8" r="8.05"/>
<circle cx="426.9" cy="441.8" r="8.05"/>
<circle cx="429.9" cy="457.7" r="8.05"/>
<circle cx="461.5" cy="557.2" r="8.05"/>
<circle cx="433.2" cy="509.4" r="8.05"/>
<circle cx="521.7" cy="399.8" r="8.05"/>
<circle cx="418.5" cy="388.1" r="8.05"/>
<circle cx="445.1" cy="532.3" r="8.05"/>
<circle cx="457.8" cy="395.5" r="8.05"/>
<circle cx="442.4" cy="477.2" r="8.05"/>
<circle cx="632.8" cy="526.5" r="8.05"/>
<circle cx="403.0" cy="508.9" r="8.05"/>
<circle cx="655.3" cy="456.2" r="8.05"/>
<circle cx="425.6" cy="495.2" r="8.05"/>
<circle cx="438.1" cy="520.2" r="8.05"/>
<circle cx="506.5" cy="373.4" r="8.05"/>
<circle cx="425.0" cy="434.6" r="8.05"/>
<circle cx="582.2" cy="531.2" r="8.05"/>
<circle cx="553.9" cy="500.1" r="8.05"/>
<circle cx="555.0" cy="458.1" r="8.05"/>
<circle cx="581.1" cy="526.1" r="8.05"/>
<circle cx="442.6" cy="510.9" r="8.05"/>
<circle cx="405.2" cy="359.2" r="8.05"/>
<circle cx="584.9" cy="457.2" r="8.05"/>
<circle cx="402.4" cy="377.4" r="8.05"/>
<circle cx="617.9" cy="496.6" r="8.05"/>
<circle cx="624.1" cy="393.2" r="8.05"/>
<circle cx="636.6" cy="451.5" r="8.05"/>
<circle cx="517.8" cy="467.7" r="8.05"/>
<circle cx="438.2" cy="515.0" r="8.05"/>
<circle cx="488.9" cy="431.7" r="8.05"/>
<circle cx="550.2" cy="506.0" r="8.05"/>
<circle cx="509.3" cy="573.5" r="8.05"/>
<circle cx="610.9" cy="568.1" r="8.05"/>
<circle cx="593.1" cy="592.1" r="8.05"/>
<circle cx="522.8" cy="534.0" r="8.05"/>
<circle cx="534.4" cy="359.2" r="8.05"/>
<circle cx="392.9" cy="458.0" r="8.05"/>
<circle cx="437.2" cy="528.3" r="8.05"/>
<circle cx="415.3" cy="454.3" r="8.05"/>
<circle cx="395.4" cy="466.5" r="8.05"/>
<circle cx="392.0" cy="448.7" r="8.05"/>
<circle cx="551.4" cy="412.0" r="8.05"/>
<circle cx="579.7" cy="372.1" r="8.05"/>
<circle cx="415.4" cy="417.5" r="8.05"/>
<circle cx="399.6" cy="562.4" r="8.05"/>
<circle cx="420.9" cy="364.8" r="8.05"/>
<circle cx="463.8" cy="363.4" r="8.05"/>
<circle cx="420.6" cy="471.2" r="8.05"/>
<circle cx="549.4" cy="427.4" r="8.05"/>
<circle cx="623.1" cy="493.7" r="8.05"/>
<circle cx="591.8" cy="536.1" r="8.05"/>
<circle cx="432.2" cy="558.7" r="8.05"/>
<circle cx="493.7" cy="562.3" r="8.05"/>
<circle cx="502.4" cy="282.9" r="8.05"/>
<circle cx="495.6" cy="524.4" r="8.05"/>
<circle cx="645.1" cy="376.2" r="8.05"/>
<circle cx="453.1" cy="480.5" r="8.05"/>
<circle cx="479.0" cy="388.1" r="8.05"/>
<circle cx="637.3" cy="564.7" r="8.05"/>
<circle cx="401.9" cy="534.8" r="8.05"/>
<circle cx="529.0" cy="310.4" r="8.05"/>
<circle cx="502.9" cy="413.3" r="8.05"/>
<circle cx="532.6" cy="410.7" r="8.05"/>
<circle cx="406.2" cy="405.0" r="8.05"/>
<circle cx="425.4" cy="509.6" r="8.05"/>
<circle cx="560.7" cy="438.2" r="8.05"/>
<circle cx="629.6" cy="533.5" r="8.05"/>
<circle cx="396.6" cy="296.7" r="8.05"/>
<circle cx="573.1" cy="423.4" r="8.05"/>
<circle cx="462.1" cy="413.3" r="8.05"/>
<circle cx="557.4" cy="274.0" r="8.05"/>
<circle cx="647.7" cy="373.9" r="8.05"/>
<circle cx="466.0" cy="455.1" r="8.05"/>
<circle cx="420.2" cy="423.6" r="8.05"/>
<circle cx="515.0" cy="438.2" r="8.05"/>
<circle cx="421.2" cy="418.2" r="8.05"/>
<circle cx="423.2" cy="456.5" r="8.05"/>
<circle cx="466.2" cy="442.7" r="8.05"/>
<circle cx="453.9" cy="553.5" r="8.05"/>
<circle cx="617.3" cy="561.2" r="8.05"/>
<circle cx="554.3" cy="525.0" r="8.05"/>
<circle cx="442.3" cy="351.6" r="8.05"/>
<circle cx="581.8" cy="412.6" r="8.05"/>
<circle cx="555.1" cy="359.4" r="8.05"/>
<circle cx="447.9" cy="442.7" r="8.05"/>
<circle cx="527.6" cy="527.9" r="8.05"/>
<circle cx="483.8" cy="545.3" r="8.05"/>
<circle cx="539.7" cy="509.0" r="8.05"/>
<circle cx="521.8" cy="417.4" r="8.05"/>
<circle cx="468.2" cy="410.5" r="8.05"/>
<circle cx="625.9" cy="484.8" r="8.05"/>
<circle cx="588.7" cy="500.1" r="8.05"/>
<circle cx="650.0" cy="515.6" r="8.05"/>
<circle cx="589.6" cy="506.8" r="8.05"/>
<circle cx="483.8" cy="512.0" r="8.05"/>
<circle cx="572.2" cy="532.9" r="8.05"/>
<circle cx="612.2" cy="339.4" r="8.05"/>
<circle cx="529.1" cy="352.6" r="8.05"/>
<circle cx="595.4" cy="456.8" r="8.05"/>
<circle cx="517.4" cy="322.2" r="8.05"/>
<circle cx="637.8" cy="497.1" r="8.05"/>
<circle cx="422.1" cy="332.1" r="8.05"/>
<circle cx="597.0" cy="472.6" r="8.05"/>
<circle cx="547.7" cy="461.1" r="8.05"/>
<circle cx="543.9" cy="241.3" r="8.05"/>
<circle cx="501.7" cy="470.0" r="8.05"/>
<circle cx="553.6" cy="504.5" r="8.05"/>
<circle cx="491.2" cy="292.3" r="8.05"/>
<circle cx="585.3" cy="374.0" r="8.05"/>
<circle cx="467.5" cy="495.8" r="8.05"/>
<circle cx="492.6" cy="380.4" r="8.05"/>
<circle cx="475.4" cy="538.0" r="8.05"/>
<circle cx="524.1" cy="506.5" r="8.05"/>
<circle cx="508.9" cy="300.3" r="8.05"/>
<circle cx="426.9" cy="497.1" r="8.05"/>
<circle cx="639.3" cy="434.1" r="8.05"/>
<circle cx="475.9" cy="448.5" r="8.05"/>
<circle cx="649.9" cy="560.0" r="8.05"/>
<circle cx="443.2" cy="327.1" r="8.05"/>
<circle cx="390.1" cy="293.9" r="8.05"/>
<circle cx="400.2" cy="553.2" r="8.05"/>
<circle cx="639.4" cy="372.3" r="8.05"/>
<circle cx="599.1" cy="426.0" r="8.05"/>
<circle cx="640.4" cy="412.9" r="8.05"/>
<circle cx="437.8" cy="408.2" r="8.05"/>
<circle cx="527.5" cy="465.1" r="8.05"/>
<circle cx="413.0" cy="413.3" r="8.05"/>
<circle cx="470.3" cy="409.8" r="8.05"/>
<circle cx="577.2" cy="537.0" r="8.05"/>
<circle cx="398.7" cy="512.2" r="8.05"/>
<circle cx="555.9" cy="455.0" r="8.05"/>
<circle cx="562.6" cy="499.6" r="8.05"/>
<circle cx="512.5" cy="401.7" r="8.05"/>
<circle cx="463.4" cy="468.1" r="8.05"/>
<circle cx="581.1" cy="465.8" r="8.05"/>
<circle cx="466.4" cy="455.0" r="8.05"/>
<circle cx="406.4" cy="497.8" r="8.05"/>
<circle cx="619.2" cy="472.6" r="8.05"/>
<circle cx="493.1" cy="422.7" r="8.05"/>
<circle cx="444.7" cy="445.3" r="8.05"/>
<circle cx="655.8" cy="510.9" r="8.05"/>
<circle cx="600.5" cy="524.8" r="8.05"/>
<circle cx="461.1" cy="496.1" r="8.05"/>
<circle cx="651.4" cy="502.6" r="8.05"/>
<circle cx="594.9" cy="489.1" r="8.05"/>
<circle cx="414.9" cy="493.0" r="8.05"/>
<circle cx="403.6" cy="490.9" r="8.05"/>
<circle cx="540.4" cy="476.2" r="8.05"/>
<circle cx="509.8" cy="441.1" r="8.05"/>
<circle cx="423.1" cy="494.6" r="8.05"/>
<circle cx="563.6" cy="536.0" r="8.05"/>
<circle cx="445.5" cy="503.0" r="8.05"/>
<circle cx="461.1" cy="499.4" r="8.05"/>
<circle cx="629.7" cy="453.3" r="8.05"/>
<circle cx="621.3" cy="479.0" r="8.05"/>
<circle cx="563.1" cy="511.7" r="8.05"/>
<circle cx="468.4" cy="473.7" r="8.05"/>
<circle cx="407.3" cy="428.2" r="8.05"/>
<circle cx="453.8" cy="518.2" r="8.05"/>
<circle cx="552.0" cy="499.9" r="8.05"/>
<circle cx="650.0" cy="433.8" r="8.05"/>
<circle cx="519.7" cy="503.7" r="8.05"/>
<circle cx="429.4" cy="427.2" r="8.05"/>
<circle cx="455.6" cy="537.7" r="8.05"/>
<circle cx="439.2" cy="422.8" r="8.05"/>
<circle cx="441.1" cy="460.9" r="8.05"/>
<circle cx="502.7" cy="513.2" r="8.05"/>
<circle cx="415.7" cy="426.7" r="8.05"/>
<circle cx="580.3" cy="495.8" r="8.05"/>
<circle cx="550.6" cy="464.3" r="8.05"/>
<circle cx="406.0" cy="500.4" r="8.05"/>
<circle cx="449.8" cy="532.1" r="8.05"/>
<circle cx="464.0" cy="435.9" r="8.05"/>
<circle cx="391.7" cy="494.4" r="8.05"/>
<circle cx="461.0" cy="452.9" r="8.05"/>
<circle cx="435.5" cy="453.0" r="8.05"/>
<circle cx="488.2" cy="473.3" r="8.05"/>
<circle cx="486.4" cy="446.5" r="8.05"/>
<circle cx="631.3" cy="457.5" r="8.05"/>
<circle cx="576.6" cy="533.3" r="8.05"/>
<circle cx="547.3" cy="460.0" r="8.05"/>
<circle cx="392.1" cy="475.6" r="8.05"/>
<circle cx="636.6" cy="477.3" r="8.05"/>
<circle cx="388.0" cy="340.3" r="8.05"/>
<circle cx="388.0" cy="404.4" r="8.05"/>
<circle cx="507.7" cy="208.0" r="8.05"/>
<circle cx="556.5" cy="180.4" r="8.05"/>
<circle cx="618.6" cy="163.75" r="8.05"/>
<circle cx="572.6" cy="213.75" r="8.05"/>
<circle cx="649.4" cy="206.8" r="8.05"/>
<circle cx="534.8" cy="231.4" r="8.05"/>
<circle cx="648.5" cy="279.4" r="8.05"/>
<circle cx="653.0" cy="297.0" r="8.05"/>
<circle cx="654.3" cy="300.0" r="8.05"/>
<circle cx="655.3" cy="316.6" r="8.05"/>
<circle cx="661.6" cy="327.5" r="8.05"/>
<circle cx="393.1" cy="647.0" r="8.05"/>
<circle cx="410.9" cy="649.4" r="8.05"/>
<circle cx="413.75" cy="652.5" r="8.05"/>
<circle cx="429.8" cy="643.9" r="8.05"/>
<circle cx="451.4" cy="643.4" r="8.05"/>
<circle cx="434.1" cy="663.1" r="8.05"/>
<circle cx="425.8" cy="671.25" r="8.05"/>
<circle cx="448.9" cy="679.5" r="8.05"/>
<circle cx="450.5" cy="691.6" r="8.05"/>
<circle cx="408.6" cy="694.7" r="8.05"/>
<circle cx="423.9" cy="703.75" r="8.05"/>
<circle cx="491.6" cy="659.2" r="8.05"/>
<circle cx="515.8" cy="655.9" r="8.05"/>
<circle cx="498.9" cy="698.6" r="8.05"/>
<circle cx="544.7" cy="647.0" r="8.05"/>
<circle cx="559.8" cy="652.5" r="8.05"/>
<circle cx="538.0" cy="674.4" r="8.05"/>
<circle cx="547.8" cy="677.5" r="8.05"/>
<circle cx="538.75" cy="685.3" r="8.05"/>
<circle cx="588.0" cy="659.1" r="8.05"/>
<circle cx="593.1" cy="656.4" r="8.05"/>
<circle cx="588.0" cy="672.0" r="8.05"/>
<circle cx="608.0" cy="660.8" r="8.05"/>
<circle cx="607.2" cy="641.9" r="8.05"/>
<circle cx="591.0" cy="639.0" r="8.05"/>
<circle cx="509.8" cy="637.0" r="8.05"/>
<circle cx="638.4" cy="667.8" r="8.05"/>
<circle cx="637.2" cy="681.9" r="8.05"/>
<circle cx="653.3" cy="690.8" r="8.05"/>
<circle cx="644.5" cy="711.1" r="8.05"/>
<circle cx="628.6" cy="715.5" r="8.05"/>
<circle cx="575.2" cy="728.0" r="8.05"/>
<circle cx="415.3" cy="754.8" r="8.05"/>
<circle cx="511.9" cy="759.5" r="8.05"/>
<circle cx="546.1" cy="765.3" r="8.05"/>
<circle cx="658.3" cy="663.4" r="8.05"/>
<circle cx="385.6" cy="603.6" r="8.05"/>
<circle cx="391.9" cy="602.8" r="8.05"/>
<circle cx="396.6" cy="600.5" r="8.05"/>
<circle cx="425.5" cy="606.7" r="8.05"/>
<circle cx="440.3" cy="614.5" r="8.05"/>
<circle cx="448.1" cy="603.6" r="8.05"/>
<circle cx="454.4" cy="600.5" r="8.05"/>
<circle cx="465.3" cy="618.4" r="8.05"/>
<circle cx="488.75" cy="605.9" r="8.05"/>
<circle cx="493.4" cy="602.0" r="8.05"/>
<circle cx="501.25" cy="601.25" r="8.05"/>
<circle cx="491.1" cy="615.3" r="8.05"/>
<circle cx="488.75" cy="620.0" r="8.05"/>
<circle cx="495.0" cy="618.4" r="8.05"/>
<circle cx="510.6" cy="620.0" r="8.05"/>
<circle cx="516.9" cy="628.6" r="8.05"/>
<circle cx="509.8" cy="631.7" r="8.05"/>
<circle cx="524.7" cy="609.8" r="8.05"/>
<circle cx="535.6" cy="605.2" r="8.05"/>
<circle cx="546.6" cy="613.75" r="8.05"/>
<circle cx="552.8" cy="603.6" r="8.05"/>
<circle cx="556.7" cy="608.3" r="8.05"/>
<circle cx="561.4" cy="623.9" r="8.05"/>
<circle cx="574.7" cy="617.7" r="8.05"/>
<circle cx="541.1" cy="630.9" r="8.05"/>
<circle cx="588.75" cy="605.2" r="8.05"/>
<circle cx="591.9" cy="602.0" r="8.05"/>
<circle cx="592.7" cy="628.6" r="8.05"/>
<circle cx="591.1" cy="634.1" r="8.05"/>
<circle cx="609.1" cy="615.3" r="8.05"/>
<circle cx="618.4" cy="615.3" r="8.05"/>
<circle cx="630.2" cy="617.7" r="8.05"/>
<circle cx="648.1" cy="625.5" r="8.05"/>
<circle cx="660.6" cy="607.5" r="8.05"/>
<circle cx="393.4" cy="630.2" r="8.05"/>
<circle cx="400.5" cy="629.4" r="8.05"/>
<circle cx="415.3" cy="627.8" r="8.05"/>
<circle cx="414.5" cy="631.7" r="8.05"/>
<circle cx="1190.8" cy="228.75" r="8.05"/>
<circle cx="1083.75" cy="248.6" r="8.05"/>
<circle cx="1181.9" cy="253.3" r="8.05"/>
<circle cx="1194.4" cy="256.1" r="8.05"/>
<circle cx="1193.1" cy="267.5" r="8.05"/>
<circle cx="1183.4" cy="277.5" r="8.05"/>
<circle cx="1190.9" cy="289.7" r="8.05"/>
<circle cx="1093.1" cy="274.8" r="8.05"/>
<circle cx="1118.3" cy="275.2" r="8.05"/>
<circle cx="1132.7" cy="274.4" r="8.05"/>
<circle cx="1324.5" cy="278.3" r="8.05"/>
<circle cx="1105.3" cy="300.6" r="8.05"/>
<circle cx="1148.6" cy="304.1" r="8.05"/>
<circle cx="1159.5" cy="305.8" r="8.05"/>
<circle cx="1214.4" cy="307.2" r="8.05"/>
<circle cx="1230.0" cy="304.5" r="8.05"/>
<circle cx="1226.1" cy="313.9" r="8.05"/>
<circle cx="1291.7" cy="313.1" r="8.05"/>
<circle cx="1310.0" cy="303.75" r="8.05"/>
<circle cx="1317.5" cy="303.3" r="8.05"/>
<circle cx="1324.1" cy="312.0" r="8.05"/>
<circle cx="1096.7" cy="320.9" r="8.05"/>
<circle cx="1105.6" cy="334.2" r="8.05"/>
<circle cx="1147.5" cy="321.7" r="8.05"/>
<circle cx="1146.7" cy="329.1" r="8.05"/>
<circle cx="1168.9" cy="327.5" r="8.05"/>
<circle cx="1177.7" cy="325.9" r="8.05"/>
<circle cx="1207.3" cy="329.5" r="8.05"/>
<circle cx="1234.5" cy="336.1" r="8.05"/>
<circle cx="1219.8" cy="343.3" r="8.05"/>
<circle cx="1261.1" cy="330.3" r="8.05"/>
<circle cx="1262.8" cy="340.9" r="8.05"/>
<circle cx="1290.0" cy="333.0" r="8.05"/>
<circle cx="1317.0" cy="327.5" r="8.05"/>
<circle cx="1324.5" cy="335.0" r="8.05"/>
<circle cx="1312.3" cy="342.8" r="8.05"/>
<circle cx="1344.8" cy="337.0" r="8.05"/>
<circle cx="1343.9" cy="350.2" r="8.05"/>
<circle cx="1158.4" cy="354.5" r="8.05"/>
<circle cx="1220.0" cy="358.5" r="8.05"/>
<circle cx="1278.3" cy="365.0" r="8.05"/>
<circle cx="1137.3" cy="366.6" r="8.05"/>
<circle cx="1208.4" cy="365.3" r="8.05"/>
<circle cx="1217.0" cy="367.7" r="8.05"/>
<circle cx="1236.6" cy="371.6" r="8.05"/>
<circle cx="1186.25" cy="374.7" r="8.05"/>
<circle cx="1095.2" cy="376.25" r="8.05"/>
<circle cx="1120.2" cy="374.7" r="8.05"/>
<circle cx="1080.3" cy="383.3" r="8.05"/>
<circle cx="1100.6" cy="384.1" r="8.05"/>
<circle cx="1106.1" cy="386.4" r="8.05"/>
<circle cx="1087.8" cy="394.2" r="8.05"/>
<circle cx="1131.9" cy="382.5" r="8.05"/>
<circle cx="1134.7" cy="383.75" r="8.05"/>
<circle cx="1133.0" cy="385.5" r="8.05"/>
<circle cx="1152.2" cy="393.1" r="8.05"/>
<circle cx="1130.3" cy="403.3" r="8.05"/>
<circle cx="1149.8" cy="405.9" r="8.05"/>
<circle cx="1142.0" cy="410.6" r="8.05"/>
<circle cx="1137.3" cy="416.1" r="8.05"/>
<circle cx="1145.9" cy="418.4" r="8.05"/>
<circle cx="1160.8" cy="418.4" r="8.05"/>
<circle cx="1135.8" cy="428.6" r="8.05"/>
<circle cx="1149.8" cy="431.7" r="8.05"/>
<circle cx="1166.25" cy="433.3" r="8.05"/>
<circle cx="1231.4" cy="391.1" r="8.05"/>
<circle cx="1202.2" cy="390.3" r="8.05"/>
<circle cx="1195.9" cy="408.3" r="8.05"/>
<circle cx="1200.6" cy="410.6" r="8.05"/>
<circle cx="1205.3" cy="411.4" r="8.05"/>
<circle cx="1214.7" cy="413.75" r="8.05"/>
<circle cx="1225.6" cy="416.9" r="8.05"/>
<circle cx="1237.3" cy="417.7" r="8.05"/>
<circle cx="1237.3" cy="428.6" r="8.05"/>
<circle cx="1232.7" cy="437.2" r="8.05"/>
<circle cx="1187.3" cy="430.6" r="8.05"/>
<circle cx="1197.5" cy="430.2" r="8.05"/>
<circle cx="1206.1" cy="430.2" r="8.05"/>
<circle cx="1210.8" cy="438.75" r="8.05"/>
<circle cx="1207.7" cy="445.0" r="8.05"/>
<circle cx="1254.5" cy="409.4" r="8.05"/>
<circle cx="1263.1" cy="398.9" r="8.05"/>
<circle cx="1270.9" cy="411.4" r="8.05"/>
<circle cx="1291.25" cy="408.75" r="8.05"/>
<circle cx="1283.9" cy="422.3" r="8.05"/>
<circle cx="1321.7" cy="398.1" r="8.05"/>
<circle cx="1337.3" cy="400.5" r="8.05"/>
<circle cx="1332.7" cy="405.2" r="8.05"/>
<circle cx="1335.0" cy="410.6" r="8.05"/>
<circle cx="1339.2" cy="423.9" r="8.05"/>
<circle cx="1345.9" cy="443.4" r="8.05"/>
<circle cx="1330.3" cy="444.2" r="8.05"/>
<circle cx="1328.0" cy="451.25" r="8.05"/>
<circle cx="1329.0" cy="442.5" r="8.05"/>
<circle cx="1267.8" cy="445.0" r="8.05"/>
<circle cx="1281.1" cy="440.3" r="8.05"/>
<circle cx="1292.8" cy="438.75" r="8.05"/>
<circle cx="1303.75" cy="441.9" r="8.05"/>
<circle cx="1272.5" cy="454.4" r="8.05"/>
<circle cx="1300.6" cy="456.7" r="8.05"/>
<circle cx="1308.4" cy="456.7" r="8.05"/>
<circle cx="1282.7" cy="464.5" r="8.05"/>
<circle cx="1281.9" cy="468.4" r="8.05"/>
<circle cx="1269.4" cy="472.3" r="8.05"/>
<circle cx="1080.3" cy="439.5" r="8.05"/>
<circle cx="1083.4" cy="439.5" r="8.05"/>
<circle cx="1110.0" cy="427.0" r="8.05"/>
<circle cx="1112.3" cy="434.8" r="8.05"/>
<circle cx="1107.7" cy="441.9" r="8.05"/>
<circle cx="1096.7" cy="446.6" r="8.05"/>
<circle cx="1107.7" cy="458.3" r="8.05"/>
<circle cx="1114.7" cy="459.8" r="8.05"/>
<circle cx="1122.5" cy="460.6" r="8.05"/>
<circle cx="1128.75" cy="468.4" r="8.05"/>
<circle cx="1145.9" cy="440.3" r="8.05"/>
<circle cx="1153.75" cy="445.0" r="8.05"/>
<circle cx="1157.7" cy="448.1" r="8.05"/>
<circle cx="1167.0" cy="440.3" r="8.05"/>
<circle cx="1150.6" cy="452.8" r="8.05"/>
<circle cx="1161.6" cy="459.1" r="8.05"/>
<circle cx="1178.0" cy="455.2" r="8.05"/>
<circle cx="1188.9" cy="456.7" r="8.05"/>
<circle cx="1197.5" cy="463.0" r="8.05"/>
<circle cx="1186.6" cy="472.3" r="8.05"/>
<circle cx="1191.25" cy="476.25" r="8.05"/>
<circle cx="1195.9" cy="470.0" r="8.05"/>
<circle cx="1223.3" cy="458.3" r="8.05"/>
<circle cx="1231.9" cy="465.3" r="8.05"/>
<circle cx="1228.0" cy="474.7" r="8.05"/>
<circle cx="1241.25" cy="482.5" r="8.05"/>
<circle cx="1250.6" cy="480.9" r="8.05"/>
<circle cx="1261.6" cy="480.9" r="8.05"/>
<circle cx="1267.8" cy="474.7" r="8.05"/>
<circle cx="1272.5" cy="482.5" r="8.05"/>
<circle cx="1303.75" cy="484.1" r="8.05"/>
<circle cx="1308.4" cy="486.4" r="8.05"/>
<circle cx="1218.6" cy="488.75" r="8.05"/>
<circle cx="1230.3" cy="491.9" r="8.05"/>
<circle cx="1264.7" cy="491.1" r="8.05"/>
<circle cx="1075.6" cy="483.0" r="8.05"/>
<circle cx="1077.0" cy="490.3" r="8.05"/>
<circle cx="1106.9" cy="479.8" r="8.05"/>
<circle cx="1152.2" cy="479.4" r="8.05"/>
<circle cx="1163.1" cy="479.4" r="8.05"/>
<circle cx="1152.6" cy="490.0" r="8.05"/>
<circle cx="1342.0" cy="495.6" r="8.05"/>
<circle cx="1093.6" cy="495.3" r="8.05"/>
<circle cx="1102.2" cy="493.8" r="8.05"/>
<circle cx="1122.5" cy="494.0" r="8.05"/>
<circle cx="1124.1" cy="503.4" r="8.05"/>
<circle cx="1128.0" cy="512.0" r="8.05"/>
<circle cx="1138.1" cy="512.8" r="8.05"/>
<circle cx="1146.7" cy="507.3" r="8.05"/>
<circle cx="1156.9" cy="501.1" r="8.05"/>
<circle cx="1153.0" cy="496.4" r="8.05"/>
<circle cx="1074.8" cy="509.7" r="8.05"/>
<circle cx="1093.6" cy="512.8" r="8.05"/>
<circle cx="1085.0" cy="521.4" r="8.05"/>
<circle cx="1092.0" cy="521.4" r="8.05"/>
<circle cx="1074.8" cy="530.8" r="8.05"/>
<circle cx="1099.1" cy="530.0" r="8.05"/>
<circle cx="1110.0" cy="536.25" r="8.05"/>
<circle cx="1087.3" cy="539.4" r="8.05"/>
<circle cx="1091.25" cy="538.6" r="8.05"/>
<circle cx="1103.75" cy="544.8" r="8.05"/>
<circle cx="1080.3" cy="555.0" r="8.05"/>
<circle cx="1080.3" cy="557.3" r="8.05"/>
<circle cx="1098.3" cy="555.8" r="8.05"/>
<circle cx="1110.0" cy="552.7" r="8.05"/>
<circle cx="1112.3" cy="555.8" r="8.05"/>
<circle cx="1130.3" cy="547.5" r="8.05"/>
<circle cx="1140.2" cy="554.2" r="8.05"/>
<circle cx="1157.3" cy="533.4" r="8.05"/>
<circle cx="1164.4" cy="556.6" r="8.05"/>
<circle cx="1193.6" cy="519.8" r="8.05"/>
<circle cx="1199.1" cy="522.2" r="8.05"/>
<circle cx="1206.9" cy="514.4" r="8.05"/>
<circle cx="1216.25" cy="510.5" r="8.05"/>
<circle cx="1220.9" cy="515.9" r="8.05"/>
<circle cx="1231.9" cy="515.6" r="8.05"/>
<circle cx="1210.0" cy="526.9" r="8.05"/>
<circle cx="1219.4" cy="526.1" r="8.05"/>
<circle cx="1193.9" cy="537.5" r="8.05"/>
<circle cx="1233.4" cy="534.7" r="8.05"/>
<circle cx="1233.4" cy="537.8" r="8.05"/>
<circle cx="1188.4" cy="551.9" r="8.05"/>
<circle cx="1202.5" cy="562.0" r="8.05"/>
<circle cx="1182.3" cy="569.8" r="8.05"/>
<circle cx="1248.3" cy="504.2" r="8.05"/>
<circle cx="1261.6" cy="498.75" r="8.05"/>
<circle cx="1275.6" cy="494.8" r="8.05"/>
<circle cx="1278.0" cy="501.9" r="8.05"/>
<circle cx="1294.4" cy="502.7" r="8.05"/>
<circle cx="1308.4" cy="506.6" r="8.05"/>
<circle cx="1285.0" cy="519.8" r="8.05"/>
<circle cx="1290.5" cy="523.0" r="8.05"/>
<circle cx="1316.25" cy="522.2" r="8.05"/>
<circle cx="1320.9" cy="530.8" r="8.05"/>
<circle cx="1325.6" cy="510.5" r="8.05"/>
<circle cx="1331.9" cy="510.5" r="8.05"/>
<circle cx="1344.4" cy="511.25" r="8.05"/>
<circle cx="1338.9" cy="527.7" r="8.05"/>
<circle cx="1274.5" cy="540.9" r="8.05"/>
<circle cx="1322.5" cy="544.8" r="8.05"/>
<circle cx="1324.0" cy="545.5" r="8.05"/>
<circle cx="1341.25" cy="550.3" r="8.05"/>
<circle cx="1259.2" cy="562.0" r="8.05"/>
<circle cx="1279.5" cy="560.9" r="8.05"/>
<circle cx="1303.0" cy="556.6" r="8.05"/>
<circle cx="1252.2" cy="573.0" r="8.05"/>
<circle cx="1278.75" cy="576.6" r="8.05"/>
<circle cx="1253.0" cy="583.1" r="8.05"/>
<circle cx="1246.7" cy="590.2" r="8.05"/>
<circle cx="1222.5" cy="584.4" r="8.05"/>
<circle cx="1230.3" cy="592.2" r="8.05"/>
<circle cx="1313.1" cy="579.2" r="8.05"/>
<circle cx="1324.8" cy="580.8" r="8.05"/>
<circle cx="1344.4" cy="584.7" r="8.05"/>
<circle cx="1126.4" cy="577.2" r="8.05"/>
<circle cx="1142.0" cy="576.9" r="8.05"/>
<circle cx="1144.4" cy="577.7" r="8.05"/>
<circle cx="1163.6" cy="581.6" r="8.05"/>
<circle cx="1087.3" cy="583.1" r="8.05"/>
<circle cx="1098.0" cy="582.3" r="8.05"/>
<circle cx="1095.2" cy="598.75" r="8.05"/>
<circle cx="1088.9" cy="608.1" r="8.05"/>
<circle cx="1093.6" cy="608.1" r="8.05"/>
<circle cx="1121.25" cy="614.5" r="8.05"/>
<circle cx="1153.0" cy="612.5" r="8.05"/>
<circle cx="1166.7" cy="623.2" r="8.05"/>
<circle cx="1193.6" cy="596.9" r="8.05"/>
<circle cx="1263.9" cy="603.9" r="8.05"/>
<circle cx="1260.0" cy="608.9" r="8.05"/>
<circle cx="1311.6" cy="604.2" r="8.05"/>
<circle cx="1311.25" cy="609.7" r="8.05"/>
<circle cx="1299.1" cy="621.8" r="8.05"/>
<circle cx="1075.6" cy="627.2" r="8.05"/>
<circle cx="1340.6" cy="634.5" r="8.05"/>
<circle cx="1074.8" cy="643.4" r="8.05"/>
<circle cx="1181.1" cy="641.6" r="8.05"/>
<circle cx="1122.2" cy="645.8" r="8.05"/>
<circle cx="1244.1" cy="663.0" r="8.05"/>
<circle cx="1272.8" cy="675.9" r="8.05"/>
<circle cx="1104.5" cy="695.5" r="8.05"/>
<circle cx="1110.8" cy="712.2" r="8.05"/>
<circle cx="1340.9" cy="709.1" r="8.05"/>
<circle cx="1277.7" cy="750.9" r="8.05"/>
<circle cx="1119.7" cy="763.0" r="8.05"/>
<circle cx="1188.9" cy="473.9" r="8.05"/>
<circle cx="1267.0" cy="479.4" r="8.05"/>
<circle cx="1306.9" cy="484.8" r="8.05"/>
<circle cx="1210.0" cy="440.3" r="8.05"/>
<circle cx="1152.2" cy="485.6" r="8.05"/>
<circle cx="1153.75" cy="494.8" r="8.05"/>
<circle cx="1267.8" cy="487.8" r="8.05"/>
<circle cx="1275.6" cy="489.4" r="8.05"/>
<circle cx="1228.0" cy="492.5" r="8.05"/>
<circle cx="1088.9" cy="522.2" r="8.05"/>
<circle cx="1110.8" cy="554.2" r="8.05"/>
<circle cx="1216.25" cy="519.0" r="8.05"/>
<circle cx="1133.5" cy="384.5" r="8.05"/>
</g><g class="o">
<circle cx="489.6" cy="192.4" r="8.05"/>
<circle cx="415.6" cy="336.1" r="8.05"/>
<circle cx="414.8" cy="355.6" r="8.05"/>
<circle cx="429.8" cy="356.4" r="8.05"/>
<circle cx="477.5" cy="353.6" r="8.05"/>
<circle cx="529.1" cy="349.7" r="8.05"/>
<circle cx="610.2" cy="337.7" r="8.05"/>
<circle cx="453.9" cy="374.2" r="8.05"/>
<circle cx="633.4" cy="380.6" r="8.05"/>
<circle cx="623.1" cy="389.5" r="8.05"/>
<circle cx="636.4" cy="402.0" r="8.05"/>
<circle cx="602.8" cy="405.2" r="8.05"/>
<circle cx="476.7" cy="409.4" r="8.05"/>
<circle cx="406.3" cy="423.9" r="8.05"/>
<circle cx="436.7" cy="435.7" r="8.05"/>
<circle cx="483.75" cy="434.6" r="8.05"/>
<circle cx="651.25" cy="438.9" r="8.05"/>
<circle cx="502.8" cy="453.2" r="8.05"/>
<circle cx="606.7" cy="454.7" r="8.05"/>
<circle cx="641.4" cy="460.2" r="8.05"/>
<circle cx="417.2" cy="465.3" r="8.05"/>
<circle cx="653.1" cy="473.6" r="8.05"/>
<circle cx="645.0" cy="484.5" r="8.05"/>
<circle cx="506.4" cy="480.2" r="8.05"/>
<circle cx="557.2" cy="478.1" r="8.05"/>
<circle cx="430.9" cy="484.1" r="8.05"/>
<circle cx="389.5" cy="488.4" r="8.05"/>
<circle cx="388.75" cy="502.1" r="8.05"/>
<circle cx="424.7" cy="503.2" r="8.05"/>
<circle cx="475.0" cy="518.0" r="8.05"/>
<circle cx="471.6" cy="533.6" r="8.05"/>
<circle cx="460.3" cy="542.4" r="8.05"/>
<circle cx="501.7" cy="530.5" r="8.05"/>
<circle cx="442.2" cy="559.2" r="8.05"/>
<circle cx="442.7" cy="589.1" r="8.05"/>
<circle cx="521.9" cy="571.9" r="8.05"/>
<circle cx="567.7" cy="526.25" r="8.05"/>
<circle cx="578.6" cy="546.3" r="8.05"/>
<circle cx="603.1" cy="518.9" r="8.05"/>
<circle cx="618.4" cy="518.75" r="8.05"/>
<circle cx="630.6" cy="518.2" r="8.05"/>
<circle cx="620.4" cy="502.0" r="8.05"/>
<circle cx="633.3" cy="502.0" r="8.05"/>
<circle cx="646.6" cy="507.8" r="8.05"/>
<circle cx="651.7" cy="525.8" r="8.05"/>
<circle cx="646.25" cy="575.0" r="8.05"/>
<circle cx="646.9" cy="591.9" r="8.05"/>
<circle cx="607.2" cy="593.75" r="8.05"/>
<circle cx="609.8" cy="607.5" r="8.05"/>
<circle cx="650.0" cy="612.0" r="8.05"/>
<circle cx="408.7" cy="644.2" r="8.05"/>
<circle cx="463.75" cy="658.4" r="8.05"/>
<circle cx="661.7" cy="663.9" r="8.05"/>
<circle cx="1178.4" cy="281.1" r="8.05"/>
<circle cx="1248.3" cy="280.6" r="8.05"/>
<circle cx="1345.9" cy="316.25" r="8.05"/>
<circle cx="1085.8" cy="368.4" r="8.05"/>
<circle cx="1112.3" cy="373.4" r="8.05"/>
<circle cx="1198.3" cy="382.5" r="8.05"/>
<circle cx="1183.0" cy="396.6" r="8.05"/>
<circle cx="1208.4" cy="405.9" r="8.05"/>
<circle cx="1209.5" cy="396.9" r="8.05"/>
<circle cx="1289.7" cy="394.5" r="8.05"/>
<circle cx="1274.1" cy="404.4" r="8.05"/>
<circle cx="1287.0" cy="448.9" r="8.05"/>
<circle cx="1096.7" cy="465.3" r="8.05"/>
<circle cx="1087.3" cy="459.1" r="8.05"/>
<circle cx="1098.75" cy="479.6" r="8.05"/>
<circle cx="1128.0" cy="481.8" r="8.05"/>
<circle cx="1150.9" cy="463.3" r="8.05"/>
<circle cx="1214.7" cy="470.0" r="8.05"/>
<circle cx="1301.9" cy="501.1" r="8.05"/>
<circle cx="1313.1" cy="497.2" r="8.05"/>
<circle cx="1269.1" cy="507.7" r="8.05"/>
<circle cx="1293.9" cy="565.6" r="8.05"/>
<circle cx="1175.3" cy="610.8" r="8.05"/>
<circle cx="1144.0" cy="622.1" r="8.05"/>
<circle cx="1234.7" cy="613.6" r="8.05"/>
</g>
<g id="tbl">
<rect x="181.5" y="223.4" width="470.4" height="107.4" fill="#fff"/>
<rect x="182.9" y="224.9" width="169.2" height="32.5" fill="#c3c3c3"/>
<rect x="355.2" y="224.9" width="88.9" height="32.5" fill="#c3c3c3"/>
<rect x="446.8" y="224.9" width="77.2" height="32.5" fill="#c3c3c3"/>
<rect x="527.0" y="224.9" width="123.6" height="32.5" fill="#c3c3c3"/>
<rect x="182.9" y="260.8" width="169.2" height="32.5" fill="#f0f0f0"/>
<rect x="355.2" y="260.8" width="88.9" height="32.5" fill="#f0f0f0"/>
<rect x="446.8" y="260.8" width="77.2" height="32.5" fill="#f0f0f0"/>
<rect x="527.0" y="260.8" width="123.6" height="32.5" fill="#f0f0f0"/>
<rect x="182.9" y="296.6" width="169.2" height="32.5" fill="#dfdfdf"/>
<rect x="355.2" y="296.6" width="88.9" height="32.5" fill="#dfdfdf"/>
<rect x="446.8" y="296.6" width="77.2" height="32.5" fill="#dfdfdf"/>
<rect x="527.0" y="296.6" width="123.6" height="32.5" fill="#dfdfdf"/>
<text x="267.5" y="249.5" font-size="24.6" font-weight="bold" text-anchor="middle" xml:space="preserve">status</text>
<text x="399.6" y="249.5" font-size="24.6" font-weight="bold" text-anchor="middle" xml:space="preserve">count</text>
<text x="485.4" y="249.5" font-size="24.6" font-weight="bold" text-anchor="middle" xml:space="preserve">total</text>
<text x="588.8" y="249.5" font-size="24.6" font-weight="bold" text-anchor="middle" xml:space="preserve">percent</text>
<text x="267.5" y="285.4" font-size="24.6" font-weight="normal" text-anchor="middle" xml:space="preserve">Vaccinated</text>
<text x="399.6" y="285.4" font-size="24.6" font-weight="normal" text-anchor="middle" xml:space="preserve">56</text>
<text x="485.4" y="285.4" font-size="24.6" font-weight="normal" text-anchor="middle" xml:space="preserve">1000</text>
<text x="588.8" y="285.4" font-size="24.6" font-weight="normal" text-anchor="middle" xml:space="preserve">5.600000</text>
<text x="267.5" y="321.2" font-size="24.6" font-weight="normal" text-anchor="middle" xml:space="preserve">Unvaccinated</text>
<text x="399.6" y="321.2" font-size="24.6" font-weight="normal" text-anchor="middle" xml:space="preserve">25</text>
<text x="485.4" y="321.2" font-size="24.6" font-weight="normal" text-anchor="middle" xml:space="preserve"> 299</text>
<text x="588.8" y="321.2" font-size="24.6" font-weight="normal" text-anchor="middle" xml:space="preserve">8.361204</text>
</g>
<g font-size="26.6" font-weight="normal">
<text x="477.91" y="827.7" textLength="93.52" lengthAdjust="spacingAndGlyphs">Vaccinated</text>
<text x="478.31" y="827.7" textLength="93.52" lengthAdjust="spacingAndGlyphs">Vaccinated</text>
<text x="478.71" y="827.7" textLength="93.52" lengthAdjust="spacingAndGlyphs">Vaccinated</text>
<text x="1154.24" y="827.7" textLength="114.64" lengthAdjust="spacingAndGlyphs">Unvaccinated</text>
<text x="1154.64" y="827.7" textLength="114.64" lengthAdjust="spacingAndGlyphs">Unvaccinated</text>
<text x="1155.04" y="827.7" textLength="114.64" lengthAdjust="spacingAndGlyphs">Unvaccinated</text>
</g>
<g font-size="36.5" font-weight="bold">
<text x="1667.89" y="431.4" textLength="161.59" lengthAdjust="spacingAndGlyphs">Hospitalized</text>
<text x="1668.44" y="431.4" textLength="161.59" lengthAdjust="spacingAndGlyphs">Hospitalized</text>
<text x="1668.99" y="431.4" textLength="161.59" lengthAdjust="spacingAndGlyphs">Hospitalized</text>
</g>
<rect x="1667.7" y="434.5" width="46.1" height="46.1" fill="#fff" stroke="#333" stroke-width="1.4"/>
<rect x="1667.7" y="480.6" width="46.1" height="46.1" fill="#fff" stroke="#333" stroke-width="1.4"/>
<g class="g"><circle cx="1690.8" cy="457.8" r="8.05"/></g>
<g class="o"><circle cx="1690.8" cy="503.9" r="8.05"/></g>
<g font-size="26.2" font-weight="normal">
<text x="1728.21" y="466.6" textLength="28.00" lengthAdjust="spacingAndGlyphs">Not</text>
<text x="1728.61" y="466.6" textLength="28.00" lengthAdjust="spacingAndGlyphs">Not</text>
<text x="1729.01" y="466.6" textLength="28.00" lengthAdjust="spacingAndGlyphs">Not</text>
<text x="1763.60" y="466.6" textLength="103.13" lengthAdjust="spacingAndGlyphs">Hospitalized</text>
<text x="1764.00" y="466.6" textLength="103.13" lengthAdjust="spacingAndGlyphs">Hospitalized</text>
<text x="1764.40" y="466.6" textLength="103.13" lengthAdjust="spacingAndGlyphs">Hospitalized</text>
</g>
<g font-size="26.2" font-weight="normal">
<text x="1728.20" y="512.7" textLength="103.67" lengthAdjust="spacingAndGlyphs">Hospitalized</text>
<text x="1728.60" y="512.7" textLength="103.67" lengthAdjust="spacingAndGlyphs">Hospitalized</text>
<text x="1729.00" y="512.7" textLength="103.67" lengthAdjust="spacingAndGlyphs">Hospitalized</text>
</g>
</svg></body></html>
